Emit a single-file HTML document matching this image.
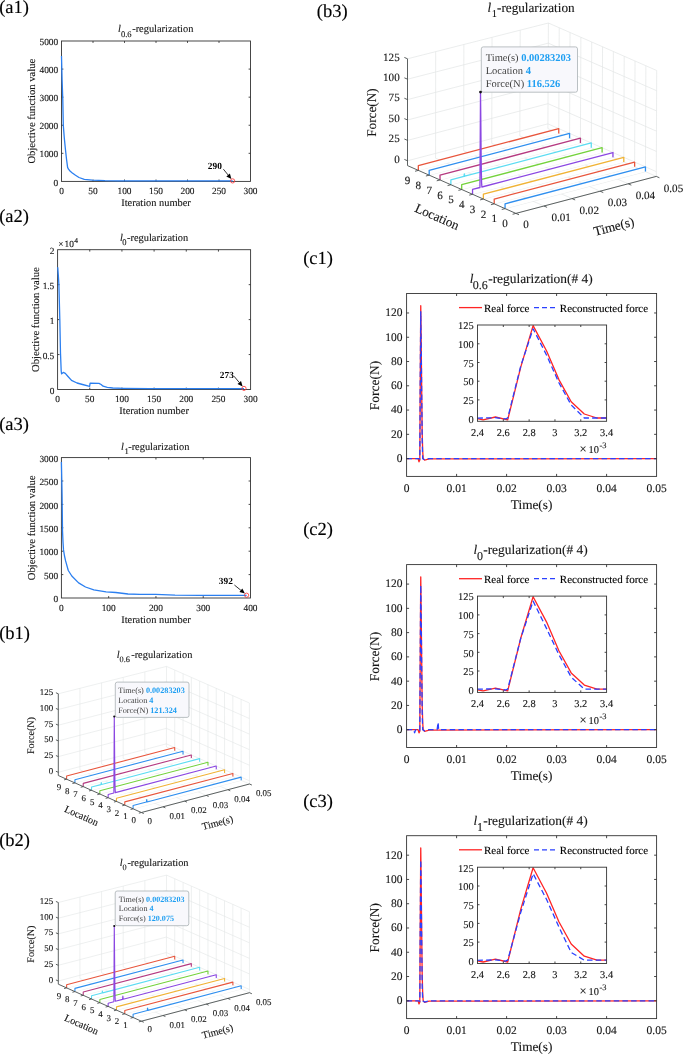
<!DOCTYPE html>
<html><head><meta charset="utf-8"><style>
html,body{margin:0;padding:0;background:#fff;}
body{width:685px;height:1054px;overflow:hidden;}
svg{display:block;will-change:transform;}
text{text-rendering:geometricPrecision;}
</style></head><body>
<svg width="685" height="1054" viewBox="0 0 685 1054" font-family="Liberation Serif, serif" fill="#161616">
<rect x="0" y="0" width="685" height="1054" fill="#fff"/>
<text x="-0.80" y="12.60" font-size="18.5" fill="#000" stroke="#000" stroke-width="0.12">(a1)</text>
<text x="-0.80" y="221.60" font-size="18.5" fill="#000" stroke="#000" stroke-width="0.12">(a2)</text>
<text x="-0.80" y="430.00" font-size="18.5" fill="#000" stroke="#000" stroke-width="0.12">(a3)</text>
<text x="-0.80" y="639.00" font-size="18.5" fill="#000" stroke="#000" stroke-width="0.12">(b1)</text>
<text x="-0.80" y="846.00" font-size="18.5" fill="#000" stroke="#000" stroke-width="0.12">(b2)</text>
<text x="316.80" y="17.00" font-size="18.5" fill="#000" stroke="#000" stroke-width="0.12">(b3)</text>
<text x="303.20" y="264.40" font-size="18.5" fill="#000" stroke="#000" stroke-width="0.12">(c1)</text>
<text x="303.20" y="535.20" font-size="18.5" fill="#000" stroke="#000" stroke-width="0.12">(c2)</text>
<text x="303.20" y="806.60" font-size="18.5" fill="#000" stroke="#000" stroke-width="0.12">(c3)</text>
<rect x="61.50" y="41.00" width="189.00" height="140.40" fill="none" stroke="#333333" stroke-width="0.9" rx="0"/>
<text x="61.50" y="194.10" font-size="9.33" text-anchor="middle" stroke="#161616" stroke-width="0.12">0</text>
<line x1="93.00" y1="181.40" x2="93.00" y2="179.50" stroke="#333333" stroke-width="0.9"/>
<line x1="93.00" y1="41.00" x2="93.00" y2="42.90" stroke="#333333" stroke-width="0.9"/>
<text x="93.00" y="194.10" font-size="9.33" text-anchor="middle" stroke="#161616" stroke-width="0.12">50</text>
<line x1="124.50" y1="181.40" x2="124.50" y2="179.50" stroke="#333333" stroke-width="0.9"/>
<line x1="124.50" y1="41.00" x2="124.50" y2="42.90" stroke="#333333" stroke-width="0.9"/>
<text x="124.50" y="194.10" font-size="9.33" text-anchor="middle" stroke="#161616" stroke-width="0.12">100</text>
<line x1="156.00" y1="181.40" x2="156.00" y2="179.50" stroke="#333333" stroke-width="0.9"/>
<line x1="156.00" y1="41.00" x2="156.00" y2="42.90" stroke="#333333" stroke-width="0.9"/>
<text x="156.00" y="194.10" font-size="9.33" text-anchor="middle" stroke="#161616" stroke-width="0.12">150</text>
<line x1="187.50" y1="181.40" x2="187.50" y2="179.50" stroke="#333333" stroke-width="0.9"/>
<line x1="187.50" y1="41.00" x2="187.50" y2="42.90" stroke="#333333" stroke-width="0.9"/>
<text x="187.50" y="194.10" font-size="9.33" text-anchor="middle" stroke="#161616" stroke-width="0.12">200</text>
<line x1="219.00" y1="181.40" x2="219.00" y2="179.50" stroke="#333333" stroke-width="0.9"/>
<line x1="219.00" y1="41.00" x2="219.00" y2="42.90" stroke="#333333" stroke-width="0.9"/>
<text x="219.00" y="194.10" font-size="9.33" text-anchor="middle" stroke="#161616" stroke-width="0.12">250</text>
<text x="250.50" y="194.10" font-size="9.33" text-anchor="middle" stroke="#161616" stroke-width="0.12">300</text>
<text x="58.20" y="185.50" font-size="9.33" text-anchor="end" stroke="#161616" stroke-width="0.12">0</text>
<line x1="61.50" y1="153.32" x2="63.40" y2="153.32" stroke="#333333" stroke-width="0.9"/>
<line x1="250.50" y1="153.32" x2="248.60" y2="153.32" stroke="#333333" stroke-width="0.9"/>
<text x="58.20" y="157.42" font-size="9.33" text-anchor="end" stroke="#161616" stroke-width="0.12">1000</text>
<line x1="61.50" y1="125.24" x2="63.40" y2="125.24" stroke="#333333" stroke-width="0.9"/>
<line x1="250.50" y1="125.24" x2="248.60" y2="125.24" stroke="#333333" stroke-width="0.9"/>
<text x="58.20" y="129.34" font-size="9.33" text-anchor="end" stroke="#161616" stroke-width="0.12">2000</text>
<line x1="61.50" y1="97.16" x2="63.40" y2="97.16" stroke="#333333" stroke-width="0.9"/>
<line x1="250.50" y1="97.16" x2="248.60" y2="97.16" stroke="#333333" stroke-width="0.9"/>
<text x="58.20" y="101.26" font-size="9.33" text-anchor="end" stroke="#161616" stroke-width="0.12">3000</text>
<line x1="61.50" y1="69.08" x2="63.40" y2="69.08" stroke="#333333" stroke-width="0.9"/>
<line x1="250.50" y1="69.08" x2="248.60" y2="69.08" stroke="#333333" stroke-width="0.9"/>
<text x="58.20" y="73.18" font-size="9.33" text-anchor="end" stroke="#161616" stroke-width="0.12">4000</text>
<text x="58.20" y="45.10" font-size="9.33" text-anchor="end" stroke="#161616" stroke-width="0.12">5000</text>
<text x="156.00" y="206.30" font-size="10.4" text-anchor="middle" stroke="#161616" stroke-width="0.12">Iteration number</text>
<text x="35.00" y="111.20" font-size="10.6" text-anchor="middle" transform="rotate(-90.00 35.00 111.20)" stroke="#161616" stroke-width="0.12">Objective function value</text>
<polyline points="61.50,55.90 62.10,80.00 62.80,100.00 63.30,125.40 64.30,138.00 65.40,149.00 66.50,159.00 67.60,167.40 68.50,169.20 70.00,171.00 72.00,172.70 75.50,175.30 79.00,177.50 84.30,179.30 92.20,180.10 105.00,180.60 118.00,180.80 150.00,180.90 232.60,180.90" fill="none" stroke="#2b7ff0" stroke-width="1.3" stroke-linejoin="round"/>
<text x="118.00" y="32.20" font-size="10.4" font-style="italic" stroke="#161616" stroke-width="0.12">l</text>
<text x="120.90" y="36.80" font-size="8.5" stroke="#161616" stroke-width="0.12">0.6</text>
<text x="132.20" y="32.20" font-size="10.4" stroke="#161616" stroke-width="0.12">-regularization</text>
<text x="207.80" y="168.80" font-size="9.33" fill="#000" font-weight="bold">290</text>
<line x1="223.40" y1="169.20" x2="228.11" y2="174.97" stroke="#000" stroke-width="0.8"/>
<polygon points="231.40,179.00 226.33,176.43 229.89,173.52" fill="#000"/>
<circle cx="232.60" cy="180.90" r="2.1" fill="none" stroke="#ff3030" stroke-width="0.8"/>
<rect x="57.60" y="249.70" width="193.00" height="139.80" fill="none" stroke="#333333" stroke-width="0.9" rx="0"/>
<text x="57.60" y="402.20" font-size="9.33" text-anchor="middle" stroke="#161616" stroke-width="0.12">0</text>
<line x1="89.77" y1="389.50" x2="89.77" y2="387.60" stroke="#333333" stroke-width="0.9"/>
<line x1="89.77" y1="249.70" x2="89.77" y2="251.60" stroke="#333333" stroke-width="0.9"/>
<text x="89.77" y="402.20" font-size="9.33" text-anchor="middle" stroke="#161616" stroke-width="0.12">50</text>
<line x1="121.93" y1="389.50" x2="121.93" y2="387.60" stroke="#333333" stroke-width="0.9"/>
<line x1="121.93" y1="249.70" x2="121.93" y2="251.60" stroke="#333333" stroke-width="0.9"/>
<text x="121.93" y="402.20" font-size="9.33" text-anchor="middle" stroke="#161616" stroke-width="0.12">100</text>
<line x1="154.10" y1="389.50" x2="154.10" y2="387.60" stroke="#333333" stroke-width="0.9"/>
<line x1="154.10" y1="249.70" x2="154.10" y2="251.60" stroke="#333333" stroke-width="0.9"/>
<text x="154.10" y="402.20" font-size="9.33" text-anchor="middle" stroke="#161616" stroke-width="0.12">150</text>
<line x1="186.27" y1="389.50" x2="186.27" y2="387.60" stroke="#333333" stroke-width="0.9"/>
<line x1="186.27" y1="249.70" x2="186.27" y2="251.60" stroke="#333333" stroke-width="0.9"/>
<text x="186.27" y="402.20" font-size="9.33" text-anchor="middle" stroke="#161616" stroke-width="0.12">200</text>
<line x1="218.43" y1="389.50" x2="218.43" y2="387.60" stroke="#333333" stroke-width="0.9"/>
<line x1="218.43" y1="249.70" x2="218.43" y2="251.60" stroke="#333333" stroke-width="0.9"/>
<text x="218.43" y="402.20" font-size="9.33" text-anchor="middle" stroke="#161616" stroke-width="0.12">250</text>
<text x="250.60" y="402.20" font-size="9.33" text-anchor="middle" stroke="#161616" stroke-width="0.12">300</text>
<text x="54.30" y="393.60" font-size="9.33" text-anchor="end" stroke="#161616" stroke-width="0.12">0</text>
<line x1="57.60" y1="354.55" x2="59.50" y2="354.55" stroke="#333333" stroke-width="0.9"/>
<line x1="250.60" y1="354.55" x2="248.70" y2="354.55" stroke="#333333" stroke-width="0.9"/>
<text x="54.30" y="358.65" font-size="9.33" text-anchor="end" stroke="#161616" stroke-width="0.12">0.5</text>
<line x1="57.60" y1="319.60" x2="59.50" y2="319.60" stroke="#333333" stroke-width="0.9"/>
<line x1="250.60" y1="319.60" x2="248.70" y2="319.60" stroke="#333333" stroke-width="0.9"/>
<text x="54.30" y="323.70" font-size="9.33" text-anchor="end" stroke="#161616" stroke-width="0.12">1</text>
<line x1="57.60" y1="284.65" x2="59.50" y2="284.65" stroke="#333333" stroke-width="0.9"/>
<line x1="250.60" y1="284.65" x2="248.70" y2="284.65" stroke="#333333" stroke-width="0.9"/>
<text x="54.30" y="288.75" font-size="9.33" text-anchor="end" stroke="#161616" stroke-width="0.12">1.5</text>
<text x="54.30" y="253.80" font-size="9.33" text-anchor="end" stroke="#161616" stroke-width="0.12">2</text>
<text x="154.10" y="414.40" font-size="10.4" text-anchor="middle" stroke="#161616" stroke-width="0.12">Iteration number</text>
<text x="39.20" y="319.60" font-size="10.6" text-anchor="middle" transform="rotate(-90.00 39.20 319.60)" stroke="#161616" stroke-width="0.12">Objective function value</text>
<polyline points="57.70,267.20 58.30,275.00 58.90,284.40 59.80,318.80 60.50,353.20 61.20,371.00 61.60,373.80 63.30,372.40 65.30,373.40 68.00,376.50 71.50,380.40 77.00,383.00 82.50,384.50 88.70,386.20 89.60,386.40 90.10,383.10 99.00,383.40 101.10,384.50 103.10,386.20 107.30,387.30 112.80,388.00 123.80,388.30 150.00,388.60 244.00,388.70" fill="none" stroke="#2b7ff0" stroke-width="1.3" stroke-linejoin="round"/>
<text x="58.20" y="247.30" font-size="9.33" stroke="#161616" stroke-width="0.12">×</text>
<text x="64.60" y="247.30" font-size="9.33" stroke="#161616" stroke-width="0.12">10</text>
<text x="74.20" y="242.80" font-size="7.6" stroke="#161616" stroke-width="0.12">4</text>
<text x="120.00" y="240.80" font-size="10.4" font-style="italic" stroke="#161616" stroke-width="0.12">l</text>
<text x="122.30" y="245.40" font-size="8.5" stroke="#161616" stroke-width="0.12">0</text>
<text x="127.00" y="240.80" font-size="10.4" stroke="#161616" stroke-width="0.12">-regularization</text>
<text x="219.80" y="377.60" font-size="9.33" fill="#000" font-weight="bold">273</text>
<line x1="234.00" y1="376.20" x2="239.27" y2="382.51" stroke="#000" stroke-width="0.8"/>
<polygon points="242.60,386.50 237.50,383.98 241.03,381.03" fill="#000"/>
<circle cx="244.00" cy="388.40" r="2.1" fill="none" stroke="#ff3030" stroke-width="0.8"/>
<rect x="61.40" y="457.60" width="189.10" height="140.40" fill="none" stroke="#333333" stroke-width="0.9" rx="0"/>
<text x="61.40" y="610.70" font-size="9.33" text-anchor="middle" stroke="#161616" stroke-width="0.12">0</text>
<line x1="108.67" y1="598.00" x2="108.67" y2="596.10" stroke="#333333" stroke-width="0.9"/>
<line x1="108.67" y1="457.60" x2="108.67" y2="459.50" stroke="#333333" stroke-width="0.9"/>
<text x="108.67" y="610.70" font-size="9.33" text-anchor="middle" stroke="#161616" stroke-width="0.12">100</text>
<line x1="155.95" y1="598.00" x2="155.95" y2="596.10" stroke="#333333" stroke-width="0.9"/>
<line x1="155.95" y1="457.60" x2="155.95" y2="459.50" stroke="#333333" stroke-width="0.9"/>
<text x="155.95" y="610.70" font-size="9.33" text-anchor="middle" stroke="#161616" stroke-width="0.12">200</text>
<line x1="203.22" y1="598.00" x2="203.22" y2="596.10" stroke="#333333" stroke-width="0.9"/>
<line x1="203.22" y1="457.60" x2="203.22" y2="459.50" stroke="#333333" stroke-width="0.9"/>
<text x="203.22" y="610.70" font-size="9.33" text-anchor="middle" stroke="#161616" stroke-width="0.12">300</text>
<text x="250.50" y="610.70" font-size="9.33" text-anchor="middle" stroke="#161616" stroke-width="0.12">400</text>
<text x="58.10" y="602.10" font-size="9.33" text-anchor="end" stroke="#161616" stroke-width="0.12">0</text>
<line x1="61.40" y1="574.60" x2="63.30" y2="574.60" stroke="#333333" stroke-width="0.9"/>
<line x1="250.50" y1="574.60" x2="248.60" y2="574.60" stroke="#333333" stroke-width="0.9"/>
<text x="58.10" y="578.70" font-size="9.33" text-anchor="end" stroke="#161616" stroke-width="0.12">500</text>
<line x1="61.40" y1="551.20" x2="63.30" y2="551.20" stroke="#333333" stroke-width="0.9"/>
<line x1="250.50" y1="551.20" x2="248.60" y2="551.20" stroke="#333333" stroke-width="0.9"/>
<text x="58.10" y="555.30" font-size="9.33" text-anchor="end" stroke="#161616" stroke-width="0.12">1000</text>
<line x1="61.40" y1="527.80" x2="63.30" y2="527.80" stroke="#333333" stroke-width="0.9"/>
<line x1="250.50" y1="527.80" x2="248.60" y2="527.80" stroke="#333333" stroke-width="0.9"/>
<text x="58.10" y="531.90" font-size="9.33" text-anchor="end" stroke="#161616" stroke-width="0.12">1500</text>
<line x1="61.40" y1="504.40" x2="63.30" y2="504.40" stroke="#333333" stroke-width="0.9"/>
<line x1="250.50" y1="504.40" x2="248.60" y2="504.40" stroke="#333333" stroke-width="0.9"/>
<text x="58.10" y="508.50" font-size="9.33" text-anchor="end" stroke="#161616" stroke-width="0.12">2000</text>
<line x1="61.40" y1="481.00" x2="63.30" y2="481.00" stroke="#333333" stroke-width="0.9"/>
<line x1="250.50" y1="481.00" x2="248.60" y2="481.00" stroke="#333333" stroke-width="0.9"/>
<text x="58.10" y="485.10" font-size="9.33" text-anchor="end" stroke="#161616" stroke-width="0.12">2500</text>
<text x="58.10" y="461.70" font-size="9.33" text-anchor="end" stroke="#161616" stroke-width="0.12">3000</text>
<text x="155.95" y="622.90" font-size="10.4" text-anchor="middle" stroke="#161616" stroke-width="0.12">Iteration number</text>
<text x="35.00" y="527.80" font-size="10.6" text-anchor="middle" transform="rotate(-90.00 35.00 527.80)" stroke="#161616" stroke-width="0.12">Objective function value</text>
<polyline points="61.40,461.90 61.80,480.00 62.10,496.30 62.50,530.60 63.00,542.00 63.50,549.90 64.50,556.00 65.60,560.90 68.30,570.50 71.80,576.00 78.60,582.90 85.50,587.00 93.80,589.80 106.10,591.80 115.80,592.50 128.00,594.00 140.00,594.40 155.60,594.30 175.00,595.20 200.00,595.40 246.60,595.40" fill="none" stroke="#2b7ff0" stroke-width="1.3" stroke-linejoin="round"/>
<text x="121.00" y="449.70" font-size="10.4" font-style="italic" stroke="#161616" stroke-width="0.12">l</text>
<text x="124.60" y="454.30" font-size="8.5" stroke="#161616" stroke-width="0.12">1</text>
<text x="128.20" y="449.70" font-size="10.4" stroke="#161616" stroke-width="0.12">-regularization</text>
<text x="218.80" y="583.70" font-size="9.33" fill="#000" font-weight="bold">392</text>
<line x1="234.40" y1="585.00" x2="240.88" y2="590.31" stroke="#000" stroke-width="0.8"/>
<polygon points="244.90,593.60 239.42,592.08 242.33,588.53" fill="#000"/>
<circle cx="246.60" cy="595.20" r="2.1" fill="none" stroke="#ff3030" stroke-width="0.8"/>
<line x1="58.30" y1="772.30" x2="166.40" y2="743.84" stroke="#e2e5e5" stroke-width="0.6"/>
<line x1="58.30" y1="756.60" x2="166.42" y2="728.35" stroke="#e2e5e5" stroke-width="0.6"/>
<line x1="58.30" y1="740.90" x2="166.44" y2="712.86" stroke="#e2e5e5" stroke-width="0.6"/>
<line x1="58.30" y1="725.20" x2="166.46" y2="697.38" stroke="#e2e5e5" stroke-width="0.6"/>
<line x1="58.30" y1="709.50" x2="166.48" y2="681.89" stroke="#e2e5e5" stroke-width="0.6"/>
<line x1="58.30" y1="693.80" x2="166.50" y2="666.40" stroke="#e2e5e5" stroke-width="0.6"/>
<line x1="79.92" y1="769.80" x2="79.94" y2="688.32" stroke="#e2e5e5" stroke-width="0.6"/>
<line x1="101.54" y1="764.10" x2="101.58" y2="682.84" stroke="#e2e5e5" stroke-width="0.6"/>
<line x1="123.16" y1="758.40" x2="123.22" y2="677.36" stroke="#e2e5e5" stroke-width="0.6"/>
<line x1="144.78" y1="752.70" x2="144.86" y2="671.88" stroke="#e2e5e5" stroke-width="0.6"/>
<line x1="166.40" y1="747.00" x2="166.50" y2="666.40" stroke="#e2e5e5" stroke-width="0.6"/>
<line x1="249.50" y1="780.82" x2="166.40" y2="743.84" stroke="#e2e5e5" stroke-width="0.6"/>
<line x1="249.48" y1="765.26" x2="166.42" y2="728.35" stroke="#e2e5e5" stroke-width="0.6"/>
<line x1="249.46" y1="749.69" x2="166.44" y2="712.86" stroke="#e2e5e5" stroke-width="0.6"/>
<line x1="249.44" y1="734.13" x2="166.46" y2="697.38" stroke="#e2e5e5" stroke-width="0.6"/>
<line x1="249.42" y1="718.56" x2="166.48" y2="681.89" stroke="#e2e5e5" stroke-width="0.6"/>
<line x1="249.40" y1="703.00" x2="166.50" y2="666.40" stroke="#e2e5e5" stroke-width="0.6"/>
<line x1="249.50" y1="784.00" x2="249.40" y2="703.00" stroke="#e2e5e5" stroke-width="0.6"/>
<line x1="241.19" y1="780.30" x2="241.11" y2="699.34" stroke="#e2e5e5" stroke-width="0.6"/>
<line x1="232.88" y1="776.60" x2="232.82" y2="695.68" stroke="#e2e5e5" stroke-width="0.6"/>
<line x1="224.57" y1="772.90" x2="224.53" y2="692.02" stroke="#e2e5e5" stroke-width="0.6"/>
<line x1="216.26" y1="769.20" x2="216.24" y2="688.36" stroke="#e2e5e5" stroke-width="0.6"/>
<line x1="207.95" y1="765.50" x2="207.95" y2="684.70" stroke="#e2e5e5" stroke-width="0.6"/>
<line x1="199.64" y1="761.80" x2="199.66" y2="681.04" stroke="#e2e5e5" stroke-width="0.6"/>
<line x1="191.33" y1="758.10" x2="191.37" y2="677.38" stroke="#e2e5e5" stroke-width="0.6"/>
<line x1="183.02" y1="754.40" x2="183.08" y2="673.72" stroke="#e2e5e5" stroke-width="0.6"/>
<line x1="174.71" y1="750.70" x2="174.79" y2="670.06" stroke="#e2e5e5" stroke-width="0.6"/>
<line x1="141.40" y1="812.50" x2="249.50" y2="784.00" stroke="#e2e5e5" stroke-width="0.6"/>
<line x1="133.09" y1="808.80" x2="241.19" y2="780.30" stroke="#e2e5e5" stroke-width="0.6"/>
<line x1="124.78" y1="805.10" x2="232.88" y2="776.60" stroke="#e2e5e5" stroke-width="0.6"/>
<line x1="116.47" y1="801.40" x2="224.57" y2="772.90" stroke="#e2e5e5" stroke-width="0.6"/>
<line x1="108.16" y1="797.70" x2="216.26" y2="769.20" stroke="#e2e5e5" stroke-width="0.6"/>
<line x1="99.85" y1="794.00" x2="207.95" y2="765.50" stroke="#e2e5e5" stroke-width="0.6"/>
<line x1="91.54" y1="790.30" x2="199.64" y2="761.80" stroke="#e2e5e5" stroke-width="0.6"/>
<line x1="83.23" y1="786.60" x2="191.33" y2="758.10" stroke="#e2e5e5" stroke-width="0.6"/>
<line x1="74.92" y1="782.90" x2="183.02" y2="754.40" stroke="#e2e5e5" stroke-width="0.6"/>
<line x1="66.61" y1="779.20" x2="174.71" y2="750.70" stroke="#e2e5e5" stroke-width="0.6"/>
<line x1="163.02" y1="806.80" x2="79.92" y2="769.80" stroke="#e2e5e5" stroke-width="0.6"/>
<line x1="184.64" y1="801.10" x2="101.54" y2="764.10" stroke="#e2e5e5" stroke-width="0.6"/>
<line x1="206.26" y1="795.40" x2="123.16" y2="758.40" stroke="#e2e5e5" stroke-width="0.6"/>
<line x1="227.88" y1="789.70" x2="144.78" y2="752.70" stroke="#e2e5e5" stroke-width="0.6"/>
<line x1="249.50" y1="784.00" x2="166.40" y2="747.00" stroke="#e2e5e5" stroke-width="0.6"/>
<polygon points="66.61,779.20 66.61,776.00 174.71,747.54 174.71,750.70" fill="#fff" stroke="none"/>
<polyline points="66.61,779.20 66.61,776.00 174.71,747.54 174.71,750.70" fill="none" stroke="#e8553c" stroke-width="1.1" stroke-linejoin="round"/>
<polygon points="74.92,782.90 74.92,779.69 183.02,751.24 183.02,754.40" fill="#fff" stroke="none"/>
<polyline points="74.92,782.90 74.92,779.69 183.02,751.24 183.02,754.40" fill="none" stroke="#2f8fef" stroke-width="1.1" stroke-linejoin="round"/>
<polygon points="83.23,786.60 83.23,783.39 191.33,754.94 191.33,758.10" fill="#fff" stroke="none"/>
<polyline points="83.23,786.60 83.23,783.39 191.33,754.94 191.33,758.10" fill="none" stroke="#b53a80" stroke-width="1.1" stroke-linejoin="round"/>
<polygon points="91.54,790.30 91.54,787.09 100.94,784.62 101.27,782.64 101.59,784.44 199.64,758.63 199.64,761.80" fill="#fff" stroke="none"/>
<polyline points="91.54,790.30 91.54,787.09 100.94,784.62 101.27,782.64 101.59,784.44 199.64,758.63 199.64,761.80" fill="none" stroke="#5cdcf2" stroke-width="1.1" stroke-linejoin="round"/>
<polygon points="99.85,794.00 99.85,790.79 207.95,762.33 207.95,765.50" fill="#fff" stroke="none"/>
<polyline points="99.85,794.00 99.85,790.79 207.95,762.33 207.95,765.50" fill="none" stroke="#74d23c" stroke-width="1.1" stroke-linejoin="round"/>
<polygon points="108.16,797.70 108.16,794.49 113.87,792.99 114.07,754.75 114.28,716.52 114.49,737.08 114.71,762.22 114.91,779.73 115.12,788.84 115.34,792.60 216.26,766.03 216.26,769.20" fill="#fff" stroke="none"/>
<polyline points="108.16,797.70 108.16,794.49 113.87,792.99 114.07,754.75 114.28,716.52 114.49,737.08 114.71,762.22 114.91,779.73 115.12,788.84 115.34,792.60 216.26,766.03 216.26,769.20" fill="none" stroke="#8b47e2" stroke-width="1.1" stroke-linejoin="round"/>
<polygon points="116.47,801.40 116.47,798.19 224.57,769.73 224.57,772.90" fill="#fff" stroke="none"/>
<polyline points="116.47,801.40 116.47,798.19 224.57,769.73 224.57,772.90" fill="none" stroke="#f0b335" stroke-width="1.1" stroke-linejoin="round"/>
<polygon points="124.78,805.10 124.78,801.88 232.88,773.43 232.88,776.60" fill="#fff" stroke="none"/>
<polyline points="124.78,805.10 124.78,801.88 232.88,773.43 232.88,776.60" fill="none" stroke="#e8553c" stroke-width="1.1" stroke-linejoin="round"/>
<polygon points="133.09,808.80 133.09,805.58 146.39,802.08 146.71,799.48 147.03,801.91 241.19,777.13 241.19,780.30" fill="#fff" stroke="none"/>
<polyline points="133.09,808.80 133.09,805.58 146.39,802.08 146.71,799.48 147.03,801.91 241.19,777.13 241.19,780.30" fill="none" stroke="#2f8fef" stroke-width="1.1" stroke-linejoin="round"/>
<line x1="58.30" y1="775.50" x2="58.30" y2="693.80" stroke="#4b5050" stroke-width="0.9"/>
<line x1="58.30" y1="775.50" x2="141.40" y2="812.50" stroke="#4b5050" stroke-width="0.9"/>
<line x1="141.40" y1="812.50" x2="249.50" y2="784.00" stroke="#4b5050" stroke-width="0.9"/>
<line x1="58.30" y1="772.30" x2="55.92" y2="771.24" stroke="#4b5050" stroke-width="0.9"/>
<text x="53.10" y="773.83" font-size="8.9" text-anchor="end" stroke="#161616" stroke-width="0.12">0</text>
<line x1="58.30" y1="756.60" x2="55.92" y2="755.54" stroke="#4b5050" stroke-width="0.9"/>
<text x="53.10" y="758.13" font-size="8.9" text-anchor="end" stroke="#161616" stroke-width="0.12">25</text>
<line x1="58.30" y1="740.90" x2="55.92" y2="739.84" stroke="#4b5050" stroke-width="0.9"/>
<text x="53.10" y="742.44" font-size="8.9" text-anchor="end" stroke="#161616" stroke-width="0.12">50</text>
<line x1="58.30" y1="725.20" x2="55.92" y2="724.14" stroke="#4b5050" stroke-width="0.9"/>
<text x="53.10" y="726.74" font-size="8.9" text-anchor="end" stroke="#161616" stroke-width="0.12">75</text>
<line x1="58.30" y1="709.50" x2="55.92" y2="708.44" stroke="#4b5050" stroke-width="0.9"/>
<text x="53.10" y="711.04" font-size="8.9" text-anchor="end" stroke="#161616" stroke-width="0.12">100</text>
<line x1="58.30" y1="693.80" x2="55.92" y2="692.74" stroke="#4b5050" stroke-width="0.9"/>
<text x="53.10" y="695.34" font-size="8.9" text-anchor="end" stroke="#161616" stroke-width="0.12">125</text>
<line x1="141.40" y1="812.50" x2="138.89" y2="813.16" stroke="#4b5050" stroke-width="0.9"/>
<text x="133.70" y="823.14" font-size="8.9" text-anchor="middle" stroke="#161616" stroke-width="0.12">0</text>
<line x1="133.09" y1="808.80" x2="130.58" y2="809.46" stroke="#4b5050" stroke-width="0.9"/>
<text x="125.39" y="819.44" font-size="8.9" text-anchor="middle" stroke="#161616" stroke-width="0.12">1</text>
<line x1="124.78" y1="805.10" x2="122.27" y2="805.76" stroke="#4b5050" stroke-width="0.9"/>
<text x="117.08" y="815.74" font-size="8.9" text-anchor="middle" stroke="#161616" stroke-width="0.12">2</text>
<line x1="116.47" y1="801.40" x2="113.96" y2="802.06" stroke="#4b5050" stroke-width="0.9"/>
<text x="108.77" y="812.04" font-size="8.9" text-anchor="middle" stroke="#161616" stroke-width="0.12">3</text>
<line x1="108.16" y1="797.70" x2="105.65" y2="798.36" stroke="#4b5050" stroke-width="0.9"/>
<text x="100.46" y="808.34" font-size="8.9" text-anchor="middle" stroke="#161616" stroke-width="0.12">4</text>
<line x1="99.85" y1="794.00" x2="97.34" y2="794.66" stroke="#4b5050" stroke-width="0.9"/>
<text x="92.15" y="804.64" font-size="8.9" text-anchor="middle" stroke="#161616" stroke-width="0.12">5</text>
<line x1="91.54" y1="790.30" x2="89.03" y2="790.96" stroke="#4b5050" stroke-width="0.9"/>
<text x="83.84" y="800.94" font-size="8.9" text-anchor="middle" stroke="#161616" stroke-width="0.12">6</text>
<line x1="83.23" y1="786.60" x2="80.72" y2="787.26" stroke="#4b5050" stroke-width="0.9"/>
<text x="75.53" y="797.24" font-size="8.9" text-anchor="middle" stroke="#161616" stroke-width="0.12">7</text>
<line x1="74.92" y1="782.90" x2="72.41" y2="783.56" stroke="#4b5050" stroke-width="0.9"/>
<text x="67.22" y="793.54" font-size="8.9" text-anchor="middle" stroke="#161616" stroke-width="0.12">8</text>
<line x1="66.61" y1="779.20" x2="64.10" y2="779.86" stroke="#4b5050" stroke-width="0.9"/>
<text x="58.91" y="789.84" font-size="8.9" text-anchor="middle" stroke="#161616" stroke-width="0.12">9</text>
<line x1="141.40" y1="812.50" x2="143.78" y2="813.56" stroke="#4b5050" stroke-width="0.9"/>
<text x="149.70" y="823.74" font-size="8.9" text-anchor="middle" stroke="#161616" stroke-width="0.12">0</text>
<line x1="163.02" y1="806.80" x2="165.40" y2="807.86" stroke="#4b5050" stroke-width="0.9"/>
<text x="177.22" y="819.14" font-size="8.9" text-anchor="middle" stroke="#161616" stroke-width="0.12">0.01</text>
<line x1="184.64" y1="801.10" x2="187.02" y2="802.16" stroke="#4b5050" stroke-width="0.9"/>
<text x="198.84" y="813.44" font-size="8.9" text-anchor="middle" stroke="#161616" stroke-width="0.12">0.02</text>
<line x1="206.26" y1="795.40" x2="208.64" y2="796.46" stroke="#4b5050" stroke-width="0.9"/>
<text x="220.46" y="807.74" font-size="8.9" text-anchor="middle" stroke="#161616" stroke-width="0.12">0.03</text>
<line x1="227.88" y1="789.70" x2="230.26" y2="790.76" stroke="#4b5050" stroke-width="0.9"/>
<text x="242.08" y="802.04" font-size="8.9" text-anchor="middle" stroke="#161616" stroke-width="0.12">0.04</text>
<line x1="249.50" y1="784.00" x2="251.88" y2="785.06" stroke="#4b5050" stroke-width="0.9"/>
<text x="263.70" y="796.34" font-size="8.9" text-anchor="middle" stroke="#161616" stroke-width="0.12">0.05</text>
<text x="34.20" y="735.50" font-size="10.1" text-anchor="middle" transform="rotate(-90.00 34.20 735.50)" stroke="#161616" stroke-width="0.12">Force(N)</text>
<text x="80.17" y="818.77" font-size="10.1" text-anchor="middle" transform="rotate(24.00 80.17 818.77)" stroke="#161616" stroke-width="0.12">Location</text>
<text x="218.37" y="825.93" font-size="10.1" text-anchor="middle" transform="rotate(-14.77 218.37 825.93)" stroke="#161616" stroke-width="0.12">Time(s)</text>
<text x="116.80" y="658.00" font-size="10.4" font-style="italic" stroke="#161616" stroke-width="0.12">l</text>
<text x="119.60" y="662.40" font-size="8.3" stroke="#161616" stroke-width="0.12">0.6</text>
<text x="131.20" y="658.00" font-size="10.4" stroke="#161616" stroke-width="0.12">-regularization</text>
<rect x="115.30" y="682.10" width="73.70" height="35.30" fill="#f8f8fc" stroke="#a9b1b4" stroke-width="0.8" rx="2"/>
<text x="118.20" y="693.00" font-size="8.2" fill="#404040" xml:space="preserve">Time(s) <tspan fill="#1f9ff2" font-weight="bold">0.00283203</tspan></text>
<text x="118.20" y="702.75" font-size="8.2" fill="#404040" xml:space="preserve">Location <tspan fill="#1f9ff2" font-weight="bold">4</tspan></text>
<text x="118.20" y="712.50" font-size="8.2" fill="#404040" xml:space="preserve">Force(N) <tspan fill="#1f9ff2" font-weight="bold">121.324</tspan></text>
<circle cx="114.28" cy="716.52" r="1.1" fill="#111"/>
<line x1="58.30" y1="981.00" x2="166.40" y2="952.54" stroke="#e2e5e5" stroke-width="0.6"/>
<line x1="58.30" y1="965.30" x2="166.42" y2="937.05" stroke="#e2e5e5" stroke-width="0.6"/>
<line x1="58.30" y1="949.60" x2="166.44" y2="921.56" stroke="#e2e5e5" stroke-width="0.6"/>
<line x1="58.30" y1="933.90" x2="166.46" y2="906.08" stroke="#e2e5e5" stroke-width="0.6"/>
<line x1="58.30" y1="918.20" x2="166.48" y2="890.59" stroke="#e2e5e5" stroke-width="0.6"/>
<line x1="58.30" y1="902.50" x2="166.50" y2="875.10" stroke="#e2e5e5" stroke-width="0.6"/>
<line x1="79.92" y1="978.50" x2="79.94" y2="897.02" stroke="#e2e5e5" stroke-width="0.6"/>
<line x1="101.54" y1="972.80" x2="101.58" y2="891.54" stroke="#e2e5e5" stroke-width="0.6"/>
<line x1="123.16" y1="967.10" x2="123.22" y2="886.06" stroke="#e2e5e5" stroke-width="0.6"/>
<line x1="144.78" y1="961.40" x2="144.86" y2="880.58" stroke="#e2e5e5" stroke-width="0.6"/>
<line x1="166.40" y1="955.70" x2="166.50" y2="875.10" stroke="#e2e5e5" stroke-width="0.6"/>
<line x1="249.50" y1="989.52" x2="166.40" y2="952.54" stroke="#e2e5e5" stroke-width="0.6"/>
<line x1="249.48" y1="973.96" x2="166.42" y2="937.05" stroke="#e2e5e5" stroke-width="0.6"/>
<line x1="249.46" y1="958.39" x2="166.44" y2="921.56" stroke="#e2e5e5" stroke-width="0.6"/>
<line x1="249.44" y1="942.83" x2="166.46" y2="906.08" stroke="#e2e5e5" stroke-width="0.6"/>
<line x1="249.42" y1="927.26" x2="166.48" y2="890.59" stroke="#e2e5e5" stroke-width="0.6"/>
<line x1="249.40" y1="911.70" x2="166.50" y2="875.10" stroke="#e2e5e5" stroke-width="0.6"/>
<line x1="249.50" y1="992.70" x2="249.40" y2="911.70" stroke="#e2e5e5" stroke-width="0.6"/>
<line x1="241.19" y1="989.00" x2="241.11" y2="908.04" stroke="#e2e5e5" stroke-width="0.6"/>
<line x1="232.88" y1="985.30" x2="232.82" y2="904.38" stroke="#e2e5e5" stroke-width="0.6"/>
<line x1="224.57" y1="981.60" x2="224.53" y2="900.72" stroke="#e2e5e5" stroke-width="0.6"/>
<line x1="216.26" y1="977.90" x2="216.24" y2="897.06" stroke="#e2e5e5" stroke-width="0.6"/>
<line x1="207.95" y1="974.20" x2="207.95" y2="893.40" stroke="#e2e5e5" stroke-width="0.6"/>
<line x1="199.64" y1="970.50" x2="199.66" y2="889.74" stroke="#e2e5e5" stroke-width="0.6"/>
<line x1="191.33" y1="966.80" x2="191.37" y2="886.08" stroke="#e2e5e5" stroke-width="0.6"/>
<line x1="183.02" y1="963.10" x2="183.08" y2="882.42" stroke="#e2e5e5" stroke-width="0.6"/>
<line x1="174.71" y1="959.40" x2="174.79" y2="878.76" stroke="#e2e5e5" stroke-width="0.6"/>
<line x1="141.40" y1="1021.20" x2="249.50" y2="992.70" stroke="#e2e5e5" stroke-width="0.6"/>
<line x1="133.09" y1="1017.50" x2="241.19" y2="989.00" stroke="#e2e5e5" stroke-width="0.6"/>
<line x1="124.78" y1="1013.80" x2="232.88" y2="985.30" stroke="#e2e5e5" stroke-width="0.6"/>
<line x1="116.47" y1="1010.10" x2="224.57" y2="981.60" stroke="#e2e5e5" stroke-width="0.6"/>
<line x1="108.16" y1="1006.40" x2="216.26" y2="977.90" stroke="#e2e5e5" stroke-width="0.6"/>
<line x1="99.85" y1="1002.70" x2="207.95" y2="974.20" stroke="#e2e5e5" stroke-width="0.6"/>
<line x1="91.54" y1="999.00" x2="199.64" y2="970.50" stroke="#e2e5e5" stroke-width="0.6"/>
<line x1="83.23" y1="995.30" x2="191.33" y2="966.80" stroke="#e2e5e5" stroke-width="0.6"/>
<line x1="74.92" y1="991.60" x2="183.02" y2="963.10" stroke="#e2e5e5" stroke-width="0.6"/>
<line x1="66.61" y1="987.90" x2="174.71" y2="959.40" stroke="#e2e5e5" stroke-width="0.6"/>
<line x1="163.02" y1="1015.50" x2="79.92" y2="978.50" stroke="#e2e5e5" stroke-width="0.6"/>
<line x1="184.64" y1="1009.80" x2="101.54" y2="972.80" stroke="#e2e5e5" stroke-width="0.6"/>
<line x1="206.26" y1="1004.10" x2="123.16" y2="967.10" stroke="#e2e5e5" stroke-width="0.6"/>
<line x1="227.88" y1="998.40" x2="144.78" y2="961.40" stroke="#e2e5e5" stroke-width="0.6"/>
<line x1="249.50" y1="992.70" x2="166.40" y2="955.70" stroke="#e2e5e5" stroke-width="0.6"/>
<polygon points="66.61,987.90 66.61,984.70 174.71,956.24 174.71,959.40" fill="#fff" stroke="none"/>
<polyline points="66.61,987.90 66.61,984.70 174.71,956.24 174.71,959.40" fill="none" stroke="#e8553c" stroke-width="1.1" stroke-linejoin="round"/>
<polygon points="74.92,991.60 74.92,988.39 183.02,959.94 183.02,963.10" fill="#fff" stroke="none"/>
<polyline points="74.92,991.60 74.92,988.39 183.02,959.94 183.02,963.10" fill="none" stroke="#2f8fef" stroke-width="1.1" stroke-linejoin="round"/>
<polygon points="83.23,995.30 83.23,992.09 191.33,963.64 191.33,966.80" fill="#fff" stroke="none"/>
<polyline points="83.23,995.30 83.23,992.09 191.33,963.64 191.33,966.80" fill="none" stroke="#b53a80" stroke-width="1.1" stroke-linejoin="round"/>
<polygon points="91.54,999.00 91.54,995.79 102.03,993.03 102.35,991.06 102.67,992.86 199.64,967.33 199.64,970.50" fill="#fff" stroke="none"/>
<polyline points="91.54,999.00 91.54,995.79 102.03,993.03 102.35,991.06 102.67,992.86 199.64,967.33 199.64,970.50" fill="none" stroke="#5cdcf2" stroke-width="1.1" stroke-linejoin="round"/>
<polygon points="99.85,1002.70 99.85,999.49 207.95,971.03 207.95,974.20" fill="#fff" stroke="none"/>
<polyline points="99.85,1002.70 99.85,999.49 207.95,971.03 207.95,974.20" fill="none" stroke="#74d23c" stroke-width="1.1" stroke-linejoin="round"/>
<polygon points="108.16,1006.40 108.16,1003.19 113.87,1001.69 114.07,963.85 114.28,926.01 114.49,946.36 114.71,971.24 114.91,988.57 115.12,997.58 115.34,1001.30 122.54,999.40 122.86,996.17 123.19,999.23 216.26,974.73 216.26,977.90" fill="#fff" stroke="none"/>
<polyline points="108.16,1006.40 108.16,1003.19 113.87,1001.69 114.07,963.85 114.28,926.01 114.49,946.36 114.71,971.24 114.91,988.57 115.12,997.58 115.34,1001.30 122.54,999.40 122.86,996.17 123.19,999.23 216.26,974.73 216.26,977.90" fill="none" stroke="#8b47e2" stroke-width="1.1" stroke-linejoin="round"/>
<polygon points="116.47,1010.10 116.47,1006.89 224.57,978.43 224.57,981.60" fill="#fff" stroke="none"/>
<polyline points="116.47,1010.10 116.47,1006.89 224.57,978.43 224.57,981.60" fill="none" stroke="#f0b335" stroke-width="1.1" stroke-linejoin="round"/>
<polygon points="124.78,1013.80 124.78,1010.58 232.88,982.13 232.88,985.30" fill="#fff" stroke="none"/>
<polyline points="124.78,1013.80 124.78,1010.58 232.88,982.13 232.88,985.30" fill="none" stroke="#e8553c" stroke-width="1.1" stroke-linejoin="round"/>
<polygon points="133.09,1017.50 133.09,1014.28 147.25,1010.56 147.57,1007.95 147.90,1010.38 241.19,985.83 241.19,989.00" fill="#fff" stroke="none"/>
<polyline points="133.09,1017.50 133.09,1014.28 147.25,1010.56 147.57,1007.95 147.90,1010.38 241.19,985.83 241.19,989.00" fill="none" stroke="#2f8fef" stroke-width="1.1" stroke-linejoin="round"/>
<line x1="58.30" y1="984.20" x2="58.30" y2="902.50" stroke="#4b5050" stroke-width="0.9"/>
<line x1="58.30" y1="984.20" x2="141.40" y2="1021.20" stroke="#4b5050" stroke-width="0.9"/>
<line x1="141.40" y1="1021.20" x2="249.50" y2="992.70" stroke="#4b5050" stroke-width="0.9"/>
<line x1="58.30" y1="981.00" x2="55.92" y2="979.94" stroke="#4b5050" stroke-width="0.9"/>
<text x="53.10" y="982.53" font-size="8.9" text-anchor="end" stroke="#161616" stroke-width="0.12">0</text>
<line x1="58.30" y1="965.30" x2="55.92" y2="964.24" stroke="#4b5050" stroke-width="0.9"/>
<text x="53.10" y="966.83" font-size="8.9" text-anchor="end" stroke="#161616" stroke-width="0.12">25</text>
<line x1="58.30" y1="949.60" x2="55.92" y2="948.54" stroke="#4b5050" stroke-width="0.9"/>
<text x="53.10" y="951.14" font-size="8.9" text-anchor="end" stroke="#161616" stroke-width="0.12">50</text>
<line x1="58.30" y1="933.90" x2="55.92" y2="932.84" stroke="#4b5050" stroke-width="0.9"/>
<text x="53.10" y="935.44" font-size="8.9" text-anchor="end" stroke="#161616" stroke-width="0.12">75</text>
<line x1="58.30" y1="918.20" x2="55.92" y2="917.14" stroke="#4b5050" stroke-width="0.9"/>
<text x="53.10" y="919.74" font-size="8.9" text-anchor="end" stroke="#161616" stroke-width="0.12">100</text>
<line x1="58.30" y1="902.50" x2="55.92" y2="901.44" stroke="#4b5050" stroke-width="0.9"/>
<text x="53.10" y="904.04" font-size="8.9" text-anchor="end" stroke="#161616" stroke-width="0.12">125</text>
<line x1="141.40" y1="1021.20" x2="138.89" y2="1021.86" stroke="#4b5050" stroke-width="0.9"/>
<line x1="133.09" y1="1017.50" x2="130.58" y2="1018.16" stroke="#4b5050" stroke-width="0.9"/>
<text x="125.39" y="1028.14" font-size="8.9" text-anchor="middle" stroke="#161616" stroke-width="0.12">1</text>
<line x1="124.78" y1="1013.80" x2="122.27" y2="1014.46" stroke="#4b5050" stroke-width="0.9"/>
<text x="117.08" y="1024.44" font-size="8.9" text-anchor="middle" stroke="#161616" stroke-width="0.12">2</text>
<line x1="116.47" y1="1010.10" x2="113.96" y2="1010.76" stroke="#4b5050" stroke-width="0.9"/>
<text x="108.77" y="1020.74" font-size="8.9" text-anchor="middle" stroke="#161616" stroke-width="0.12">3</text>
<line x1="108.16" y1="1006.40" x2="105.65" y2="1007.06" stroke="#4b5050" stroke-width="0.9"/>
<text x="100.46" y="1017.04" font-size="8.9" text-anchor="middle" stroke="#161616" stroke-width="0.12">4</text>
<line x1="99.85" y1="1002.70" x2="97.34" y2="1003.36" stroke="#4b5050" stroke-width="0.9"/>
<text x="92.15" y="1013.34" font-size="8.9" text-anchor="middle" stroke="#161616" stroke-width="0.12">5</text>
<line x1="91.54" y1="999.00" x2="89.03" y2="999.66" stroke="#4b5050" stroke-width="0.9"/>
<text x="83.84" y="1009.64" font-size="8.9" text-anchor="middle" stroke="#161616" stroke-width="0.12">6</text>
<line x1="83.23" y1="995.30" x2="80.72" y2="995.96" stroke="#4b5050" stroke-width="0.9"/>
<text x="75.53" y="1005.94" font-size="8.9" text-anchor="middle" stroke="#161616" stroke-width="0.12">7</text>
<line x1="74.92" y1="991.60" x2="72.41" y2="992.26" stroke="#4b5050" stroke-width="0.9"/>
<text x="67.22" y="1002.24" font-size="8.9" text-anchor="middle" stroke="#161616" stroke-width="0.12">8</text>
<line x1="66.61" y1="987.90" x2="64.10" y2="988.56" stroke="#4b5050" stroke-width="0.9"/>
<text x="58.91" y="998.54" font-size="8.9" text-anchor="middle" stroke="#161616" stroke-width="0.12">9</text>
<line x1="141.40" y1="1021.20" x2="143.78" y2="1022.26" stroke="#4b5050" stroke-width="0.9"/>
<text x="149.70" y="1032.44" font-size="8.9" text-anchor="middle" stroke="#161616" stroke-width="0.12">0</text>
<line x1="163.02" y1="1015.50" x2="165.40" y2="1016.56" stroke="#4b5050" stroke-width="0.9"/>
<text x="177.22" y="1027.84" font-size="8.9" text-anchor="middle" stroke="#161616" stroke-width="0.12">0.01</text>
<line x1="184.64" y1="1009.80" x2="187.02" y2="1010.86" stroke="#4b5050" stroke-width="0.9"/>
<text x="198.84" y="1022.14" font-size="8.9" text-anchor="middle" stroke="#161616" stroke-width="0.12">0.02</text>
<line x1="206.26" y1="1004.10" x2="208.64" y2="1005.16" stroke="#4b5050" stroke-width="0.9"/>
<text x="220.46" y="1016.44" font-size="8.9" text-anchor="middle" stroke="#161616" stroke-width="0.12">0.03</text>
<line x1="227.88" y1="998.40" x2="230.26" y2="999.46" stroke="#4b5050" stroke-width="0.9"/>
<text x="242.08" y="1010.74" font-size="8.9" text-anchor="middle" stroke="#161616" stroke-width="0.12">0.04</text>
<line x1="249.50" y1="992.70" x2="251.88" y2="993.76" stroke="#4b5050" stroke-width="0.9"/>
<text x="263.70" y="1005.04" font-size="8.9" text-anchor="middle" stroke="#161616" stroke-width="0.12">0.05</text>
<text x="34.20" y="944.20" font-size="10.1" text-anchor="middle" transform="rotate(-90.00 34.20 944.20)" stroke="#161616" stroke-width="0.12">Force(N)</text>
<text x="80.17" y="1027.47" font-size="10.1" text-anchor="middle" transform="rotate(24.00 80.17 1027.47)" stroke="#161616" stroke-width="0.12">Location</text>
<text x="218.37" y="1034.63" font-size="10.1" text-anchor="middle" transform="rotate(-14.77 218.37 1034.63)" stroke="#161616" stroke-width="0.12">Time(s)</text>
<text x="119.80" y="865.50" font-size="10.4" font-style="italic" stroke="#161616" stroke-width="0.12">l</text>
<text x="122.40" y="869.90" font-size="8.3" stroke="#161616" stroke-width="0.12">0</text>
<text x="127.40" y="865.50" font-size="10.4" stroke="#161616" stroke-width="0.12">-regularization</text>
<rect x="115.20" y="891.00" width="73.60" height="34.70" fill="#f8f8fc" stroke="#a9b1b4" stroke-width="0.8" rx="2"/>
<text x="118.70" y="901.70" font-size="8.1" fill="#404040" xml:space="preserve">Time(s) <tspan fill="#1f9ff2" font-weight="bold">0.00283203</tspan></text>
<text x="118.70" y="911.35" font-size="8.1" fill="#404040" xml:space="preserve">Location <tspan fill="#1f9ff2" font-weight="bold">4</tspan></text>
<text x="118.70" y="921.00" font-size="8.1" fill="#404040" xml:space="preserve">Force(s) <tspan fill="#1f9ff2" font-weight="bold">120.075</tspan></text>
<circle cx="114.28" cy="926.01" r="1.1" fill="#111"/>
<line x1="407.50" y1="160.79" x2="547.92" y2="123.84" stroke="#e2e5e5" stroke-width="0.7"/>
<line x1="407.50" y1="140.39" x2="548.02" y2="103.67" stroke="#e2e5e5" stroke-width="0.7"/>
<line x1="407.50" y1="119.99" x2="548.11" y2="83.50" stroke="#e2e5e5" stroke-width="0.7"/>
<line x1="407.50" y1="99.59" x2="548.21" y2="63.34" stroke="#e2e5e5" stroke-width="0.7"/>
<line x1="407.50" y1="79.20" x2="548.30" y2="43.17" stroke="#e2e5e5" stroke-width="0.7"/>
<line x1="407.50" y1="58.80" x2="548.40" y2="23.00" stroke="#e2e5e5" stroke-width="0.7"/>
<line x1="435.58" y1="158.20" x2="435.68" y2="51.64" stroke="#e2e5e5" stroke-width="0.7"/>
<line x1="463.66" y1="150.80" x2="463.86" y2="44.48" stroke="#e2e5e5" stroke-width="0.7"/>
<line x1="491.74" y1="143.40" x2="492.04" y2="37.32" stroke="#e2e5e5" stroke-width="0.7"/>
<line x1="519.82" y1="136.00" x2="520.22" y2="30.16" stroke="#e2e5e5" stroke-width="0.7"/>
<line x1="547.90" y1="128.60" x2="548.40" y2="23.00" stroke="#e2e5e5" stroke-width="0.7"/>
<line x1="656.32" y1="171.63" x2="547.92" y2="123.84" stroke="#e2e5e5" stroke-width="0.7"/>
<line x1="656.39" y1="151.40" x2="548.02" y2="103.67" stroke="#e2e5e5" stroke-width="0.7"/>
<line x1="656.47" y1="131.18" x2="548.11" y2="83.50" stroke="#e2e5e5" stroke-width="0.7"/>
<line x1="656.55" y1="110.95" x2="548.21" y2="63.34" stroke="#e2e5e5" stroke-width="0.7"/>
<line x1="656.62" y1="90.73" x2="548.30" y2="43.17" stroke="#e2e5e5" stroke-width="0.7"/>
<line x1="656.70" y1="70.50" x2="548.40" y2="23.00" stroke="#e2e5e5" stroke-width="0.7"/>
<line x1="656.30" y1="176.40" x2="656.70" y2="70.50" stroke="#e2e5e5" stroke-width="0.7"/>
<line x1="645.46" y1="171.62" x2="645.87" y2="65.75" stroke="#e2e5e5" stroke-width="0.7"/>
<line x1="634.62" y1="166.84" x2="635.04" y2="61.00" stroke="#e2e5e5" stroke-width="0.7"/>
<line x1="623.78" y1="162.06" x2="624.21" y2="56.25" stroke="#e2e5e5" stroke-width="0.7"/>
<line x1="612.94" y1="157.28" x2="613.38" y2="51.50" stroke="#e2e5e5" stroke-width="0.7"/>
<line x1="602.10" y1="152.50" x2="602.55" y2="46.75" stroke="#e2e5e5" stroke-width="0.7"/>
<line x1="591.26" y1="147.72" x2="591.72" y2="42.00" stroke="#e2e5e5" stroke-width="0.7"/>
<line x1="580.42" y1="142.94" x2="580.89" y2="37.25" stroke="#e2e5e5" stroke-width="0.7"/>
<line x1="569.58" y1="138.16" x2="570.06" y2="32.50" stroke="#e2e5e5" stroke-width="0.7"/>
<line x1="558.74" y1="133.38" x2="559.23" y2="27.75" stroke="#e2e5e5" stroke-width="0.7"/>
<line x1="515.90" y1="213.40" x2="656.30" y2="176.40" stroke="#e2e5e5" stroke-width="0.7"/>
<line x1="505.06" y1="208.62" x2="645.46" y2="171.62" stroke="#e2e5e5" stroke-width="0.7"/>
<line x1="494.22" y1="203.84" x2="634.62" y2="166.84" stroke="#e2e5e5" stroke-width="0.7"/>
<line x1="483.38" y1="199.06" x2="623.78" y2="162.06" stroke="#e2e5e5" stroke-width="0.7"/>
<line x1="472.54" y1="194.28" x2="612.94" y2="157.28" stroke="#e2e5e5" stroke-width="0.7"/>
<line x1="461.70" y1="189.50" x2="602.10" y2="152.50" stroke="#e2e5e5" stroke-width="0.7"/>
<line x1="450.86" y1="184.72" x2="591.26" y2="147.72" stroke="#e2e5e5" stroke-width="0.7"/>
<line x1="440.02" y1="179.94" x2="580.42" y2="142.94" stroke="#e2e5e5" stroke-width="0.7"/>
<line x1="429.18" y1="175.16" x2="569.58" y2="138.16" stroke="#e2e5e5" stroke-width="0.7"/>
<line x1="418.34" y1="170.38" x2="558.74" y2="133.38" stroke="#e2e5e5" stroke-width="0.7"/>
<line x1="543.98" y1="206.00" x2="435.58" y2="158.20" stroke="#e2e5e5" stroke-width="0.7"/>
<line x1="572.06" y1="198.60" x2="463.66" y2="150.80" stroke="#e2e5e5" stroke-width="0.7"/>
<line x1="600.14" y1="191.20" x2="491.74" y2="143.40" stroke="#e2e5e5" stroke-width="0.7"/>
<line x1="628.22" y1="183.80" x2="519.82" y2="136.00" stroke="#e2e5e5" stroke-width="0.7"/>
<line x1="656.30" y1="176.40" x2="547.90" y2="128.60" stroke="#e2e5e5" stroke-width="0.7"/>
<polygon points="418.34,170.38 418.34,165.56 558.76,128.62 558.74,133.38" fill="#fff" stroke="none"/>
<polyline points="418.34,170.38 418.34,165.56 558.76,128.62 558.74,133.38" fill="none" stroke="#e8553c" stroke-width="1.3" stroke-linejoin="round"/>
<polygon points="429.18,175.16 429.18,170.34 569.60,133.40 569.58,138.16" fill="#fff" stroke="none"/>
<polyline points="429.18,175.16 429.18,170.34 569.60,133.40 569.58,138.16" fill="none" stroke="#2f8fef" stroke-width="1.3" stroke-linejoin="round"/>
<polygon points="440.02,179.94 440.02,175.12 580.44,138.18 580.42,142.94" fill="#fff" stroke="none"/>
<polyline points="440.02,179.94 440.02,175.12 580.44,138.18 580.42,142.94" fill="none" stroke="#b53a80" stroke-width="1.3" stroke-linejoin="round"/>
<polygon points="450.86,184.72 450.86,179.90 463.92,176.46 464.34,173.90 464.76,176.24 591.28,142.95 591.26,147.72" fill="#fff" stroke="none"/>
<polyline points="450.86,184.72 450.86,179.90 463.92,176.46 464.34,173.90 464.76,176.24 591.28,142.95 591.26,147.72" fill="none" stroke="#5cdcf2" stroke-width="1.3" stroke-linejoin="round"/>
<polygon points="461.70,189.50 461.70,184.67 602.12,147.73 602.10,152.50" fill="#fff" stroke="none"/>
<polyline points="461.70,189.50 461.70,184.67 602.12,147.73 602.10,152.50" fill="none" stroke="#74d23c" stroke-width="1.3" stroke-linejoin="round"/>
<polygon points="472.54,194.28 472.54,189.45 479.95,187.50 480.23,139.79 480.51,92.09 480.79,117.74 481.06,149.11 481.31,170.95 481.58,182.31 481.86,187.00 612.96,152.51 612.94,157.28" fill="#fff" stroke="none"/>
<polyline points="472.54,194.28 472.54,189.45 479.95,187.50 480.23,139.79 480.51,92.09 480.79,117.74 481.06,149.11 481.31,170.95 481.58,182.31 481.86,187.00 612.96,152.51 612.94,157.28" fill="none" stroke="#8b47e2" stroke-width="1.3" stroke-linejoin="round"/>
<polygon points="483.38,199.06 483.38,194.23 623.80,157.29 623.78,162.06" fill="#fff" stroke="none"/>
<polyline points="483.38,199.06 483.38,194.23 623.80,157.29 623.78,162.06" fill="none" stroke="#f0b335" stroke-width="1.3" stroke-linejoin="round"/>
<polygon points="494.22,203.84 494.22,199.01 634.64,162.07 634.62,166.84" fill="#fff" stroke="none"/>
<polyline points="494.22,203.84 494.22,199.01 634.64,162.07 634.62,166.84" fill="none" stroke="#e8553c" stroke-width="1.3" stroke-linejoin="round"/>
<polygon points="505.06,208.62 505.06,203.79 645.48,166.85 645.46,171.62" fill="#fff" stroke="none"/>
<polyline points="505.06,208.62 505.06,203.79 645.48,166.85 645.46,171.62" fill="none" stroke="#2f8fef" stroke-width="1.3" stroke-linejoin="round"/>
<line x1="407.50" y1="165.60" x2="407.50" y2="58.80" stroke="#4b5050" stroke-width="0.9"/>
<line x1="407.50" y1="165.60" x2="515.90" y2="213.40" stroke="#4b5050" stroke-width="0.9"/>
<line x1="515.90" y1="213.40" x2="656.30" y2="176.40" stroke="#4b5050" stroke-width="0.9"/>
<line x1="407.50" y1="160.79" x2="404.39" y2="159.41" stroke="#4b5050" stroke-width="0.9"/>
<text x="399.70" y="162.55" font-size="11.1" text-anchor="end" stroke="#161616" stroke-width="0.12">0</text>
<line x1="407.50" y1="140.39" x2="404.39" y2="139.02" stroke="#4b5050" stroke-width="0.9"/>
<text x="399.70" y="142.15" font-size="11.1" text-anchor="end" stroke="#161616" stroke-width="0.12">25</text>
<line x1="407.50" y1="119.99" x2="404.39" y2="118.62" stroke="#4b5050" stroke-width="0.9"/>
<text x="399.70" y="121.75" font-size="11.1" text-anchor="end" stroke="#161616" stroke-width="0.12">50</text>
<line x1="407.50" y1="99.59" x2="404.39" y2="98.22" stroke="#4b5050" stroke-width="0.9"/>
<text x="399.70" y="101.36" font-size="11.1" text-anchor="end" stroke="#161616" stroke-width="0.12">75</text>
<line x1="407.50" y1="79.20" x2="404.39" y2="77.83" stroke="#4b5050" stroke-width="0.9"/>
<text x="399.70" y="80.96" font-size="11.1" text-anchor="end" stroke="#161616" stroke-width="0.12">100</text>
<line x1="407.50" y1="58.80" x2="404.39" y2="57.43" stroke="#4b5050" stroke-width="0.9"/>
<text x="399.70" y="60.56" font-size="11.1" text-anchor="end" stroke="#161616" stroke-width="0.12">125</text>
<line x1="515.90" y1="213.40" x2="512.61" y2="214.27" stroke="#4b5050" stroke-width="0.9"/>
<text x="505.10" y="227.26" font-size="11.1" text-anchor="middle" stroke="#161616" stroke-width="0.12">0</text>
<line x1="505.06" y1="208.62" x2="501.77" y2="209.49" stroke="#4b5050" stroke-width="0.9"/>
<text x="494.26" y="222.48" font-size="11.1" text-anchor="middle" stroke="#161616" stroke-width="0.12">1</text>
<line x1="494.22" y1="203.84" x2="490.93" y2="204.71" stroke="#4b5050" stroke-width="0.9"/>
<text x="483.42" y="217.70" font-size="11.1" text-anchor="middle" stroke="#161616" stroke-width="0.12">2</text>
<line x1="483.38" y1="199.06" x2="480.09" y2="199.93" stroke="#4b5050" stroke-width="0.9"/>
<text x="472.58" y="212.92" font-size="11.1" text-anchor="middle" stroke="#161616" stroke-width="0.12">3</text>
<line x1="472.54" y1="194.28" x2="469.25" y2="195.15" stroke="#4b5050" stroke-width="0.9"/>
<text x="461.74" y="208.14" font-size="11.1" text-anchor="middle" stroke="#161616" stroke-width="0.12">4</text>
<line x1="461.70" y1="189.50" x2="458.41" y2="190.37" stroke="#4b5050" stroke-width="0.9"/>
<text x="450.90" y="203.36" font-size="11.1" text-anchor="middle" stroke="#161616" stroke-width="0.12">5</text>
<line x1="450.86" y1="184.72" x2="447.57" y2="185.59" stroke="#4b5050" stroke-width="0.9"/>
<text x="440.06" y="198.58" font-size="11.1" text-anchor="middle" stroke="#161616" stroke-width="0.12">6</text>
<line x1="440.02" y1="179.94" x2="436.73" y2="180.81" stroke="#4b5050" stroke-width="0.9"/>
<text x="429.22" y="193.80" font-size="11.1" text-anchor="middle" stroke="#161616" stroke-width="0.12">7</text>
<line x1="429.18" y1="175.16" x2="425.89" y2="176.03" stroke="#4b5050" stroke-width="0.9"/>
<text x="418.38" y="189.02" font-size="11.1" text-anchor="middle" stroke="#161616" stroke-width="0.12">8</text>
<line x1="418.34" y1="170.38" x2="415.05" y2="171.25" stroke="#4b5050" stroke-width="0.9"/>
<text x="407.54" y="184.24" font-size="11.1" text-anchor="middle" stroke="#161616" stroke-width="0.12">9</text>
<line x1="515.90" y1="213.40" x2="519.01" y2="214.77" stroke="#4b5050" stroke-width="0.9"/>
<text x="525.90" y="227.66" font-size="11.1" text-anchor="middle" stroke="#161616" stroke-width="0.12">0</text>
<line x1="543.98" y1="206.00" x2="547.09" y2="207.37" stroke="#4b5050" stroke-width="0.9"/>
<text x="561.18" y="221.26" font-size="11.1" text-anchor="middle" stroke="#161616" stroke-width="0.12">0.01</text>
<line x1="572.06" y1="198.60" x2="575.17" y2="199.97" stroke="#4b5050" stroke-width="0.9"/>
<text x="589.26" y="213.86" font-size="11.1" text-anchor="middle" stroke="#161616" stroke-width="0.12">0.02</text>
<line x1="600.14" y1="191.20" x2="603.25" y2="192.57" stroke="#4b5050" stroke-width="0.9"/>
<text x="617.34" y="206.46" font-size="11.1" text-anchor="middle" stroke="#161616" stroke-width="0.12">0.03</text>
<line x1="628.22" y1="183.80" x2="631.33" y2="185.17" stroke="#4b5050" stroke-width="0.9"/>
<text x="645.42" y="199.06" font-size="11.1" text-anchor="middle" stroke="#161616" stroke-width="0.12">0.04</text>
<line x1="656.30" y1="176.40" x2="659.41" y2="177.77" stroke="#4b5050" stroke-width="0.9"/>
<text x="673.50" y="191.66" font-size="11.1" text-anchor="middle" stroke="#161616" stroke-width="0.12">0.05</text>
<text x="375.60" y="112.60" font-size="13.2" text-anchor="middle" transform="rotate(-90.00 375.60 112.60)" stroke="#161616" stroke-width="0.12">Force(N)</text>
<text x="435.40" y="220.62" font-size="13.2" text-anchor="middle" transform="rotate(23.80 435.40 220.62)" stroke="#161616" stroke-width="0.12">Location</text>
<text x="615.01" y="230.63" font-size="13.2" text-anchor="middle" transform="rotate(-14.76 615.01 230.63)" stroke="#161616" stroke-width="0.12">Time(s)</text>
<text x="487.60" y="12.00" font-size="13.2" font-style="italic" stroke="#161616" stroke-width="0.12">l</text>
<text x="491.80" y="17.40" font-size="10.5" stroke="#161616" stroke-width="0.12">1</text>
<text x="497.00" y="12.00" font-size="13.2" stroke="#161616" stroke-width="0.12">-regularization</text>
<rect x="481.30" y="46.90" width="96.20" height="45.30" fill="#f8f8fc" stroke="#a9b1b4" stroke-width="0.8" rx="2"/>
<text x="485.70" y="61.00" font-size="10.5" fill="#404040" xml:space="preserve">Time(s) <tspan fill="#1f9ff2" font-weight="bold">0.00283203</tspan></text>
<text x="485.70" y="73.85" font-size="10.5" fill="#404040" xml:space="preserve">Location <tspan fill="#1f9ff2" font-weight="bold">4</tspan></text>
<text x="485.70" y="86.70" font-size="10.5" fill="#404040" xml:space="preserve">Force(N) <tspan fill="#1f9ff2" font-weight="bold">116.526</tspan></text>
<circle cx="480.52" cy="92.09" r="1.4" fill="#111"/>
<polyline points="406.60,458.60 418.10,458.60 419.00,461.76 419.80,460.06 420.25,382.15 420.75,305.70 421.25,346.96 421.75,395.50 422.20,433.12 422.70,451.32 423.20,458.60 424.60,460.18 429.10,458.96 656.60,458.60" fill="none" stroke="#ff2424" stroke-width="1.3" stroke-linejoin="round"/>
<polyline points="406.60,458.60 419.35,458.60 419.80,459.21 420.25,382.15 420.75,311.77 421.25,351.81 421.75,400.35 422.20,440.40 422.70,458.60 424.60,459.81 429.10,458.60 656.60,458.60" fill="none" stroke="#2a40ff" stroke-width="1.3" stroke-linejoin="round" stroke-dasharray="5.5,3.2"/>
<rect x="406.60" y="293.50" width="250.00" height="182.90" fill="none" stroke="#333333" stroke-width="0.9" rx="0"/>
<text x="406.60" y="491.90" font-size="11.5" text-anchor="middle" stroke="#161616" stroke-width="0.12">0</text>
<line x1="456.60" y1="476.40" x2="456.60" y2="473.90" stroke="#333333" stroke-width="0.9"/>
<line x1="456.60" y1="293.50" x2="456.60" y2="296.00" stroke="#333333" stroke-width="0.9"/>
<text x="456.60" y="491.90" font-size="11.5" text-anchor="middle" stroke="#161616" stroke-width="0.12">0.01</text>
<line x1="506.60" y1="476.40" x2="506.60" y2="473.90" stroke="#333333" stroke-width="0.9"/>
<line x1="506.60" y1="293.50" x2="506.60" y2="296.00" stroke="#333333" stroke-width="0.9"/>
<text x="506.60" y="491.90" font-size="11.5" text-anchor="middle" stroke="#161616" stroke-width="0.12">0.02</text>
<line x1="556.60" y1="476.40" x2="556.60" y2="473.90" stroke="#333333" stroke-width="0.9"/>
<line x1="556.60" y1="293.50" x2="556.60" y2="296.00" stroke="#333333" stroke-width="0.9"/>
<text x="556.60" y="491.90" font-size="11.5" text-anchor="middle" stroke="#161616" stroke-width="0.12">0.03</text>
<line x1="606.60" y1="476.40" x2="606.60" y2="473.90" stroke="#333333" stroke-width="0.9"/>
<line x1="606.60" y1="293.50" x2="606.60" y2="296.00" stroke="#333333" stroke-width="0.9"/>
<text x="606.60" y="491.90" font-size="11.5" text-anchor="middle" stroke="#161616" stroke-width="0.12">0.04</text>
<text x="656.60" y="491.90" font-size="11.5" text-anchor="middle" stroke="#161616" stroke-width="0.12">0.05</text>
<line x1="406.60" y1="458.60" x2="409.10" y2="458.60" stroke="#333333" stroke-width="0.9"/>
<line x1="656.60" y1="458.60" x2="654.10" y2="458.60" stroke="#333333" stroke-width="0.9"/>
<text x="402.40" y="462.00" font-size="11.5" text-anchor="end" stroke="#161616" stroke-width="0.12">0</text>
<line x1="406.60" y1="434.33" x2="409.10" y2="434.33" stroke="#333333" stroke-width="0.9"/>
<line x1="656.60" y1="434.33" x2="654.10" y2="434.33" stroke="#333333" stroke-width="0.9"/>
<text x="402.40" y="437.73" font-size="11.5" text-anchor="end" stroke="#161616" stroke-width="0.12">20</text>
<line x1="406.60" y1="410.06" x2="409.10" y2="410.06" stroke="#333333" stroke-width="0.9"/>
<line x1="656.60" y1="410.06" x2="654.10" y2="410.06" stroke="#333333" stroke-width="0.9"/>
<text x="402.40" y="413.46" font-size="11.5" text-anchor="end" stroke="#161616" stroke-width="0.12">40</text>
<line x1="406.60" y1="385.79" x2="409.10" y2="385.79" stroke="#333333" stroke-width="0.9"/>
<line x1="656.60" y1="385.79" x2="654.10" y2="385.79" stroke="#333333" stroke-width="0.9"/>
<text x="402.40" y="389.19" font-size="11.5" text-anchor="end" stroke="#161616" stroke-width="0.12">60</text>
<line x1="406.60" y1="361.52" x2="409.10" y2="361.52" stroke="#333333" stroke-width="0.9"/>
<line x1="656.60" y1="361.52" x2="654.10" y2="361.52" stroke="#333333" stroke-width="0.9"/>
<text x="402.40" y="364.92" font-size="11.5" text-anchor="end" stroke="#161616" stroke-width="0.12">80</text>
<line x1="406.60" y1="337.25" x2="409.10" y2="337.25" stroke="#333333" stroke-width="0.9"/>
<line x1="656.60" y1="337.25" x2="654.10" y2="337.25" stroke="#333333" stroke-width="0.9"/>
<text x="402.40" y="340.65" font-size="11.5" text-anchor="end" stroke="#161616" stroke-width="0.12">100</text>
<line x1="406.60" y1="312.98" x2="409.10" y2="312.98" stroke="#333333" stroke-width="0.9"/>
<line x1="656.60" y1="312.98" x2="654.10" y2="312.98" stroke="#333333" stroke-width="0.9"/>
<text x="402.40" y="316.38" font-size="11.5" text-anchor="end" stroke="#161616" stroke-width="0.12">120</text>
<text x="531.60" y="508.50" font-size="13.3" text-anchor="middle" stroke="#161616" stroke-width="0.12">Time(s)</text>
<text x="378.80" y="385.50" font-size="13.5" text-anchor="middle" transform="rotate(-90.00 378.80 385.50)" stroke="#161616" stroke-width="0.12">Force(N)</text>
<text x="469.80" y="282.50" font-size="13.4" font-style="italic" stroke="#161616" stroke-width="0.12">l</text>
<text x="472.80" y="288.60" font-size="12.0" stroke="#161616" stroke-width="0.12">0.6</text>
<text x="488.20" y="282.50" font-size="13.4" stroke="#161616" stroke-width="0.12">-regularization(# 4)</text>
<line x1="459.00" y1="307.60" x2="482.00" y2="307.60" stroke="#ff2424" stroke-width="1.3"/>
<text x="484.00" y="312.00" font-size="11.0" fill="#000" stroke="#000" stroke-width="0.12">Real force</text>
<line x1="534.00" y1="307.60" x2="558.00" y2="307.60" stroke="#2a40ff" stroke-width="1.3" stroke-dasharray="5,3"/>
<text x="559.80" y="312.00" font-size="11.0" fill="#000" stroke="#000" stroke-width="0.12">Reconstructed force</text>
<rect x="477.5" y="325.0" width="129.10" height="96.30" fill="#fff" stroke="none"/>
<polyline points="477.40,418.70 483.10,419.80 495.40,417.00 507.70,419.80 520.80,366.90 533.10,325.60 546.60,351.00 558.90,379.60 571.20,401.80 584.30,414.00 597.00,418.00 606.50,418.00" fill="none" stroke="#ff2424" stroke-width="1.3" stroke-linejoin="round"/>
<polyline points="477.40,418.10 495.40,417.70 505.50,418.90 507.70,418.00 520.80,365.80 533.10,328.80 546.60,355.20 558.90,382.70 571.20,405.00 584.30,418.00 606.50,418.00" fill="none" stroke="#2a40ff" stroke-width="1.3" stroke-linejoin="round" stroke-dasharray="5.5,3.2"/>
<rect x="477.50" y="325.00" width="129.10" height="96.30" fill="none" stroke="#333333" stroke-width="0.9" rx="0"/>
<text x="473.60" y="422.80" font-size="10.4" text-anchor="end" stroke="#161616" stroke-width="0.12">0</text>
<line x1="477.50" y1="399.90" x2="479.50" y2="399.90" stroke="#333333" stroke-width="0.9"/>
<line x1="606.60" y1="399.90" x2="604.60" y2="399.90" stroke="#333333" stroke-width="0.9"/>
<text x="473.60" y="404.10" font-size="10.4" text-anchor="end" stroke="#161616" stroke-width="0.12">25</text>
<line x1="477.50" y1="381.20" x2="479.50" y2="381.20" stroke="#333333" stroke-width="0.9"/>
<line x1="606.60" y1="381.20" x2="604.60" y2="381.20" stroke="#333333" stroke-width="0.9"/>
<text x="473.60" y="385.40" font-size="10.4" text-anchor="end" stroke="#161616" stroke-width="0.12">50</text>
<line x1="477.50" y1="362.50" x2="479.50" y2="362.50" stroke="#333333" stroke-width="0.9"/>
<line x1="606.60" y1="362.50" x2="604.60" y2="362.50" stroke="#333333" stroke-width="0.9"/>
<text x="473.60" y="366.70" font-size="10.4" text-anchor="end" stroke="#161616" stroke-width="0.12">75</text>
<line x1="477.50" y1="343.80" x2="479.50" y2="343.80" stroke="#333333" stroke-width="0.9"/>
<line x1="606.60" y1="343.80" x2="604.60" y2="343.80" stroke="#333333" stroke-width="0.9"/>
<text x="473.60" y="348.00" font-size="10.4" text-anchor="end" stroke="#161616" stroke-width="0.12">100</text>
<text x="473.60" y="329.30" font-size="10.4" text-anchor="end" stroke="#161616" stroke-width="0.12">125</text>
<text x="477.50" y="436.20" font-size="10.4" text-anchor="middle" stroke="#161616" stroke-width="0.12">2.4</text>
<line x1="503.32" y1="421.30" x2="503.32" y2="419.30" stroke="#333333" stroke-width="0.9"/>
<line x1="503.32" y1="325.00" x2="503.32" y2="327.00" stroke="#333333" stroke-width="0.9"/>
<text x="503.32" y="436.20" font-size="10.4" text-anchor="middle" stroke="#161616" stroke-width="0.12">2.6</text>
<line x1="529.14" y1="421.30" x2="529.14" y2="419.30" stroke="#333333" stroke-width="0.9"/>
<line x1="529.14" y1="325.00" x2="529.14" y2="327.00" stroke="#333333" stroke-width="0.9"/>
<text x="529.14" y="436.20" font-size="10.4" text-anchor="middle" stroke="#161616" stroke-width="0.12">2.8</text>
<line x1="554.96" y1="421.30" x2="554.96" y2="419.30" stroke="#333333" stroke-width="0.9"/>
<line x1="554.96" y1="325.00" x2="554.96" y2="327.00" stroke="#333333" stroke-width="0.9"/>
<text x="554.96" y="436.20" font-size="10.4" text-anchor="middle" stroke="#161616" stroke-width="0.12">3</text>
<line x1="580.78" y1="421.30" x2="580.78" y2="419.30" stroke="#333333" stroke-width="0.9"/>
<line x1="580.78" y1="325.00" x2="580.78" y2="327.00" stroke="#333333" stroke-width="0.9"/>
<text x="580.78" y="436.20" font-size="10.4" text-anchor="middle" stroke="#161616" stroke-width="0.12">3.2</text>
<text x="606.60" y="436.20" font-size="10.4" text-anchor="middle" stroke="#161616" stroke-width="0.12">3.4</text>
<text x="579.60" y="453.00" font-size="12.6" stroke="#161616" stroke-width="0.12">×</text>
<text x="588.60" y="452.60" font-size="10.4" stroke="#161616" stroke-width="0.12">10</text>
<text x="599.40" y="447.60" font-size="8.4" stroke="#161616" stroke-width="0.12">-3</text>
<polyline points="406.60,729.70 418.10,729.70 419.00,732.86 419.80,731.16 420.25,653.25 420.75,576.80 421.25,618.06 421.75,666.60 422.20,704.22 422.70,722.42 423.20,729.70 424.60,731.28 429.10,730.06 656.60,729.70" fill="none" stroke="#ff2424" stroke-width="1.3" stroke-linejoin="round"/>
<polyline points="406.60,729.70 413.60,729.70 414.60,732.73 415.60,729.70 419.35,729.70 419.80,730.31 420.25,654.46 420.75,585.29 421.25,625.34 421.75,672.67 422.20,712.71 422.70,729.70 424.60,730.91 429.10,729.70 437.10,729.70 437.60,726.06 438.10,722.42 438.60,729.70 656.60,729.70" fill="none" stroke="#2a40ff" stroke-width="1.3" stroke-linejoin="round" stroke-dasharray="5.5,3.2"/>
<rect x="406.60" y="564.60" width="250.00" height="182.90" fill="none" stroke="#333333" stroke-width="0.9" rx="0"/>
<text x="406.60" y="763.00" font-size="11.5" text-anchor="middle" stroke="#161616" stroke-width="0.12">0</text>
<line x1="456.60" y1="747.50" x2="456.60" y2="745.00" stroke="#333333" stroke-width="0.9"/>
<line x1="456.60" y1="564.60" x2="456.60" y2="567.10" stroke="#333333" stroke-width="0.9"/>
<text x="456.60" y="763.00" font-size="11.5" text-anchor="middle" stroke="#161616" stroke-width="0.12">0.01</text>
<line x1="506.60" y1="747.50" x2="506.60" y2="745.00" stroke="#333333" stroke-width="0.9"/>
<line x1="506.60" y1="564.60" x2="506.60" y2="567.10" stroke="#333333" stroke-width="0.9"/>
<text x="506.60" y="763.00" font-size="11.5" text-anchor="middle" stroke="#161616" stroke-width="0.12">0.02</text>
<line x1="556.60" y1="747.50" x2="556.60" y2="745.00" stroke="#333333" stroke-width="0.9"/>
<line x1="556.60" y1="564.60" x2="556.60" y2="567.10" stroke="#333333" stroke-width="0.9"/>
<text x="556.60" y="763.00" font-size="11.5" text-anchor="middle" stroke="#161616" stroke-width="0.12">0.03</text>
<line x1="606.60" y1="747.50" x2="606.60" y2="745.00" stroke="#333333" stroke-width="0.9"/>
<line x1="606.60" y1="564.60" x2="606.60" y2="567.10" stroke="#333333" stroke-width="0.9"/>
<text x="606.60" y="763.00" font-size="11.5" text-anchor="middle" stroke="#161616" stroke-width="0.12">0.04</text>
<text x="656.60" y="763.00" font-size="11.5" text-anchor="middle" stroke="#161616" stroke-width="0.12">0.05</text>
<line x1="406.60" y1="729.70" x2="409.10" y2="729.70" stroke="#333333" stroke-width="0.9"/>
<line x1="656.60" y1="729.70" x2="654.10" y2="729.70" stroke="#333333" stroke-width="0.9"/>
<text x="402.40" y="733.10" font-size="11.5" text-anchor="end" stroke="#161616" stroke-width="0.12">0</text>
<line x1="406.60" y1="705.43" x2="409.10" y2="705.43" stroke="#333333" stroke-width="0.9"/>
<line x1="656.60" y1="705.43" x2="654.10" y2="705.43" stroke="#333333" stroke-width="0.9"/>
<text x="402.40" y="708.83" font-size="11.5" text-anchor="end" stroke="#161616" stroke-width="0.12">20</text>
<line x1="406.60" y1="681.16" x2="409.10" y2="681.16" stroke="#333333" stroke-width="0.9"/>
<line x1="656.60" y1="681.16" x2="654.10" y2="681.16" stroke="#333333" stroke-width="0.9"/>
<text x="402.40" y="684.56" font-size="11.5" text-anchor="end" stroke="#161616" stroke-width="0.12">40</text>
<line x1="406.60" y1="656.89" x2="409.10" y2="656.89" stroke="#333333" stroke-width="0.9"/>
<line x1="656.60" y1="656.89" x2="654.10" y2="656.89" stroke="#333333" stroke-width="0.9"/>
<text x="402.40" y="660.29" font-size="11.5" text-anchor="end" stroke="#161616" stroke-width="0.12">60</text>
<line x1="406.60" y1="632.62" x2="409.10" y2="632.62" stroke="#333333" stroke-width="0.9"/>
<line x1="656.60" y1="632.62" x2="654.10" y2="632.62" stroke="#333333" stroke-width="0.9"/>
<text x="402.40" y="636.02" font-size="11.5" text-anchor="end" stroke="#161616" stroke-width="0.12">80</text>
<line x1="406.60" y1="608.35" x2="409.10" y2="608.35" stroke="#333333" stroke-width="0.9"/>
<line x1="656.60" y1="608.35" x2="654.10" y2="608.35" stroke="#333333" stroke-width="0.9"/>
<text x="402.40" y="611.75" font-size="11.5" text-anchor="end" stroke="#161616" stroke-width="0.12">100</text>
<line x1="406.60" y1="584.08" x2="409.10" y2="584.08" stroke="#333333" stroke-width="0.9"/>
<line x1="656.60" y1="584.08" x2="654.10" y2="584.08" stroke="#333333" stroke-width="0.9"/>
<text x="402.40" y="587.48" font-size="11.5" text-anchor="end" stroke="#161616" stroke-width="0.12">120</text>
<text x="531.60" y="779.60" font-size="13.3" text-anchor="middle" stroke="#161616" stroke-width="0.12">Time(s)</text>
<text x="378.80" y="656.60" font-size="13.5" text-anchor="middle" transform="rotate(-90.00 378.80 656.60)" stroke="#161616" stroke-width="0.12">Force(N)</text>
<text x="473.60" y="553.60" font-size="13.4" font-style="italic" stroke="#161616" stroke-width="0.12">l</text>
<text x="477.00" y="559.70" font-size="12.0" stroke="#161616" stroke-width="0.12">0</text>
<text x="483.20" y="553.60" font-size="13.4" stroke="#161616" stroke-width="0.12">-regularization(# 4)</text>
<line x1="459.00" y1="578.70" x2="482.00" y2="578.70" stroke="#ff2424" stroke-width="1.3"/>
<text x="484.00" y="583.10" font-size="11.0" fill="#000" stroke="#000" stroke-width="0.12">Real force</text>
<line x1="534.00" y1="578.70" x2="558.00" y2="578.70" stroke="#2a40ff" stroke-width="1.3" stroke-dasharray="5,3"/>
<text x="559.80" y="583.10" font-size="11.0" fill="#000" stroke="#000" stroke-width="0.12">Reconstructed force</text>
<rect x="477.5" y="596.1" width="129.10" height="96.30" fill="#fff" stroke="none"/>
<polyline points="477.40,689.80 483.10,690.90 495.40,688.10 507.70,690.90 520.80,638.00 533.10,596.70 546.60,622.10 558.90,650.70 571.20,672.90 584.30,685.10 597.00,689.10 606.50,689.10" fill="none" stroke="#ff2424" stroke-width="1.3" stroke-linejoin="round"/>
<polyline points="477.40,689.20 495.40,688.80 505.50,690.00 507.70,689.10 520.80,638.10 533.10,601.10 546.60,628.60 558.90,654.60 571.20,677.10 584.30,689.10 606.50,689.10" fill="none" stroke="#2a40ff" stroke-width="1.3" stroke-linejoin="round" stroke-dasharray="5.5,3.2"/>
<rect x="477.50" y="596.10" width="129.10" height="96.30" fill="none" stroke="#333333" stroke-width="0.9" rx="0"/>
<text x="473.60" y="693.90" font-size="10.4" text-anchor="end" stroke="#161616" stroke-width="0.12">0</text>
<line x1="477.50" y1="671.00" x2="479.50" y2="671.00" stroke="#333333" stroke-width="0.9"/>
<line x1="606.60" y1="671.00" x2="604.60" y2="671.00" stroke="#333333" stroke-width="0.9"/>
<text x="473.60" y="675.20" font-size="10.4" text-anchor="end" stroke="#161616" stroke-width="0.12">25</text>
<line x1="477.50" y1="652.30" x2="479.50" y2="652.30" stroke="#333333" stroke-width="0.9"/>
<line x1="606.60" y1="652.30" x2="604.60" y2="652.30" stroke="#333333" stroke-width="0.9"/>
<text x="473.60" y="656.50" font-size="10.4" text-anchor="end" stroke="#161616" stroke-width="0.12">50</text>
<line x1="477.50" y1="633.60" x2="479.50" y2="633.60" stroke="#333333" stroke-width="0.9"/>
<line x1="606.60" y1="633.60" x2="604.60" y2="633.60" stroke="#333333" stroke-width="0.9"/>
<text x="473.60" y="637.80" font-size="10.4" text-anchor="end" stroke="#161616" stroke-width="0.12">75</text>
<line x1="477.50" y1="614.90" x2="479.50" y2="614.90" stroke="#333333" stroke-width="0.9"/>
<line x1="606.60" y1="614.90" x2="604.60" y2="614.90" stroke="#333333" stroke-width="0.9"/>
<text x="473.60" y="619.10" font-size="10.4" text-anchor="end" stroke="#161616" stroke-width="0.12">100</text>
<text x="473.60" y="600.40" font-size="10.4" text-anchor="end" stroke="#161616" stroke-width="0.12">125</text>
<text x="477.50" y="707.30" font-size="10.4" text-anchor="middle" stroke="#161616" stroke-width="0.12">2.4</text>
<line x1="503.32" y1="692.40" x2="503.32" y2="690.40" stroke="#333333" stroke-width="0.9"/>
<line x1="503.32" y1="596.10" x2="503.32" y2="598.10" stroke="#333333" stroke-width="0.9"/>
<text x="503.32" y="707.30" font-size="10.4" text-anchor="middle" stroke="#161616" stroke-width="0.12">2.6</text>
<line x1="529.14" y1="692.40" x2="529.14" y2="690.40" stroke="#333333" stroke-width="0.9"/>
<line x1="529.14" y1="596.10" x2="529.14" y2="598.10" stroke="#333333" stroke-width="0.9"/>
<text x="529.14" y="707.30" font-size="10.4" text-anchor="middle" stroke="#161616" stroke-width="0.12">2.8</text>
<line x1="554.96" y1="692.40" x2="554.96" y2="690.40" stroke="#333333" stroke-width="0.9"/>
<line x1="554.96" y1="596.10" x2="554.96" y2="598.10" stroke="#333333" stroke-width="0.9"/>
<text x="554.96" y="707.30" font-size="10.4" text-anchor="middle" stroke="#161616" stroke-width="0.12">3</text>
<line x1="580.78" y1="692.40" x2="580.78" y2="690.40" stroke="#333333" stroke-width="0.9"/>
<line x1="580.78" y1="596.10" x2="580.78" y2="598.10" stroke="#333333" stroke-width="0.9"/>
<text x="580.78" y="707.30" font-size="10.4" text-anchor="middle" stroke="#161616" stroke-width="0.12">3.2</text>
<text x="606.60" y="707.30" font-size="10.4" text-anchor="middle" stroke="#161616" stroke-width="0.12">3.4</text>
<text x="579.60" y="724.10" font-size="12.6" stroke="#161616" stroke-width="0.12">×</text>
<text x="588.60" y="723.70" font-size="10.4" stroke="#161616" stroke-width="0.12">10</text>
<text x="599.40" y="718.70" font-size="8.4" stroke="#161616" stroke-width="0.12">-3</text>
<polyline points="406.60,1000.80 418.10,1000.80 419.00,1003.96 419.80,1002.26 420.25,924.35 420.75,847.90 421.25,889.16 421.75,937.70 422.20,975.32 422.70,993.52 423.20,1000.80 424.60,1002.38 429.10,1001.16 656.60,1000.80" fill="none" stroke="#ff2424" stroke-width="1.3" stroke-linejoin="round"/>
<polyline points="406.60,1000.80 419.35,1000.80 419.80,1001.41 420.25,927.99 420.75,860.03 421.25,898.87 421.75,946.19 422.20,986.24 422.70,1000.80 424.60,1002.01 429.10,1000.80 656.60,1000.80" fill="none" stroke="#2a40ff" stroke-width="1.3" stroke-linejoin="round" stroke-dasharray="5.5,3.2"/>
<rect x="406.60" y="835.70" width="250.00" height="182.90" fill="none" stroke="#333333" stroke-width="0.9" rx="0"/>
<text x="406.60" y="1034.10" font-size="11.5" text-anchor="middle" stroke="#161616" stroke-width="0.12">0</text>
<line x1="456.60" y1="1018.60" x2="456.60" y2="1016.10" stroke="#333333" stroke-width="0.9"/>
<line x1="456.60" y1="835.70" x2="456.60" y2="838.20" stroke="#333333" stroke-width="0.9"/>
<text x="456.60" y="1034.10" font-size="11.5" text-anchor="middle" stroke="#161616" stroke-width="0.12">0.01</text>
<line x1="506.60" y1="1018.60" x2="506.60" y2="1016.10" stroke="#333333" stroke-width="0.9"/>
<line x1="506.60" y1="835.70" x2="506.60" y2="838.20" stroke="#333333" stroke-width="0.9"/>
<text x="506.60" y="1034.10" font-size="11.5" text-anchor="middle" stroke="#161616" stroke-width="0.12">0.02</text>
<line x1="556.60" y1="1018.60" x2="556.60" y2="1016.10" stroke="#333333" stroke-width="0.9"/>
<line x1="556.60" y1="835.70" x2="556.60" y2="838.20" stroke="#333333" stroke-width="0.9"/>
<text x="556.60" y="1034.10" font-size="11.5" text-anchor="middle" stroke="#161616" stroke-width="0.12">0.03</text>
<line x1="606.60" y1="1018.60" x2="606.60" y2="1016.10" stroke="#333333" stroke-width="0.9"/>
<line x1="606.60" y1="835.70" x2="606.60" y2="838.20" stroke="#333333" stroke-width="0.9"/>
<text x="606.60" y="1034.10" font-size="11.5" text-anchor="middle" stroke="#161616" stroke-width="0.12">0.04</text>
<text x="656.60" y="1034.10" font-size="11.5" text-anchor="middle" stroke="#161616" stroke-width="0.12">0.05</text>
<line x1="406.60" y1="1000.80" x2="409.10" y2="1000.80" stroke="#333333" stroke-width="0.9"/>
<line x1="656.60" y1="1000.80" x2="654.10" y2="1000.80" stroke="#333333" stroke-width="0.9"/>
<text x="402.40" y="1004.20" font-size="11.5" text-anchor="end" stroke="#161616" stroke-width="0.12">0</text>
<line x1="406.60" y1="976.53" x2="409.10" y2="976.53" stroke="#333333" stroke-width="0.9"/>
<line x1="656.60" y1="976.53" x2="654.10" y2="976.53" stroke="#333333" stroke-width="0.9"/>
<text x="402.40" y="979.93" font-size="11.5" text-anchor="end" stroke="#161616" stroke-width="0.12">20</text>
<line x1="406.60" y1="952.26" x2="409.10" y2="952.26" stroke="#333333" stroke-width="0.9"/>
<line x1="656.60" y1="952.26" x2="654.10" y2="952.26" stroke="#333333" stroke-width="0.9"/>
<text x="402.40" y="955.66" font-size="11.5" text-anchor="end" stroke="#161616" stroke-width="0.12">40</text>
<line x1="406.60" y1="927.99" x2="409.10" y2="927.99" stroke="#333333" stroke-width="0.9"/>
<line x1="656.60" y1="927.99" x2="654.10" y2="927.99" stroke="#333333" stroke-width="0.9"/>
<text x="402.40" y="931.39" font-size="11.5" text-anchor="end" stroke="#161616" stroke-width="0.12">60</text>
<line x1="406.60" y1="903.72" x2="409.10" y2="903.72" stroke="#333333" stroke-width="0.9"/>
<line x1="656.60" y1="903.72" x2="654.10" y2="903.72" stroke="#333333" stroke-width="0.9"/>
<text x="402.40" y="907.12" font-size="11.5" text-anchor="end" stroke="#161616" stroke-width="0.12">80</text>
<line x1="406.60" y1="879.45" x2="409.10" y2="879.45" stroke="#333333" stroke-width="0.9"/>
<line x1="656.60" y1="879.45" x2="654.10" y2="879.45" stroke="#333333" stroke-width="0.9"/>
<text x="402.40" y="882.85" font-size="11.5" text-anchor="end" stroke="#161616" stroke-width="0.12">100</text>
<line x1="406.60" y1="855.18" x2="409.10" y2="855.18" stroke="#333333" stroke-width="0.9"/>
<line x1="656.60" y1="855.18" x2="654.10" y2="855.18" stroke="#333333" stroke-width="0.9"/>
<text x="402.40" y="858.58" font-size="11.5" text-anchor="end" stroke="#161616" stroke-width="0.12">120</text>
<text x="531.60" y="1050.70" font-size="13.3" text-anchor="middle" stroke="#161616" stroke-width="0.12">Time(s)</text>
<text x="378.80" y="927.70" font-size="13.5" text-anchor="middle" transform="rotate(-90.00 378.80 927.70)" stroke="#161616" stroke-width="0.12">Force(N)</text>
<text x="473.60" y="824.70" font-size="13.4" font-style="italic" stroke="#161616" stroke-width="0.12">l</text>
<text x="477.00" y="830.80" font-size="12.0" stroke="#161616" stroke-width="0.12">1</text>
<text x="483.20" y="824.70" font-size="13.4" stroke="#161616" stroke-width="0.12">-regularization(# 4)</text>
<line x1="459.00" y1="849.80" x2="482.00" y2="849.80" stroke="#ff2424" stroke-width="1.3"/>
<text x="484.00" y="854.20" font-size="11.0" fill="#000" stroke="#000" stroke-width="0.12">Real force</text>
<line x1="534.00" y1="849.80" x2="558.00" y2="849.80" stroke="#2a40ff" stroke-width="1.3" stroke-dasharray="5,3"/>
<text x="559.80" y="854.20" font-size="11.0" fill="#000" stroke="#000" stroke-width="0.12">Reconstructed force</text>
<rect x="477.5" y="867.2" width="129.10" height="96.30" fill="#fff" stroke="none"/>
<polyline points="477.40,960.90 483.10,962.00 495.40,959.20 507.70,962.00 520.80,909.10 533.10,867.80 546.60,893.20 558.90,921.80 571.20,944.00 584.30,956.20 597.00,960.20 606.50,960.20" fill="none" stroke="#ff2424" stroke-width="1.3" stroke-linejoin="round"/>
<polyline points="477.40,960.30 495.40,959.90 505.50,961.10 507.70,960.20 520.80,912.20 533.10,873.70 546.60,899.50 558.90,927.00 571.20,952.50 584.30,960.20 606.50,960.20" fill="none" stroke="#2a40ff" stroke-width="1.3" stroke-linejoin="round" stroke-dasharray="5.5,3.2"/>
<rect x="477.50" y="867.20" width="129.10" height="96.30" fill="none" stroke="#333333" stroke-width="0.9" rx="0"/>
<text x="473.60" y="965.00" font-size="10.4" text-anchor="end" stroke="#161616" stroke-width="0.12">0</text>
<line x1="477.50" y1="942.10" x2="479.50" y2="942.10" stroke="#333333" stroke-width="0.9"/>
<line x1="606.60" y1="942.10" x2="604.60" y2="942.10" stroke="#333333" stroke-width="0.9"/>
<text x="473.60" y="946.30" font-size="10.4" text-anchor="end" stroke="#161616" stroke-width="0.12">25</text>
<line x1="477.50" y1="923.40" x2="479.50" y2="923.40" stroke="#333333" stroke-width="0.9"/>
<line x1="606.60" y1="923.40" x2="604.60" y2="923.40" stroke="#333333" stroke-width="0.9"/>
<text x="473.60" y="927.60" font-size="10.4" text-anchor="end" stroke="#161616" stroke-width="0.12">50</text>
<line x1="477.50" y1="904.70" x2="479.50" y2="904.70" stroke="#333333" stroke-width="0.9"/>
<line x1="606.60" y1="904.70" x2="604.60" y2="904.70" stroke="#333333" stroke-width="0.9"/>
<text x="473.60" y="908.90" font-size="10.4" text-anchor="end" stroke="#161616" stroke-width="0.12">75</text>
<line x1="477.50" y1="886.00" x2="479.50" y2="886.00" stroke="#333333" stroke-width="0.9"/>
<line x1="606.60" y1="886.00" x2="604.60" y2="886.00" stroke="#333333" stroke-width="0.9"/>
<text x="473.60" y="890.20" font-size="10.4" text-anchor="end" stroke="#161616" stroke-width="0.12">100</text>
<text x="473.60" y="871.50" font-size="10.4" text-anchor="end" stroke="#161616" stroke-width="0.12">125</text>
<text x="477.50" y="978.40" font-size="10.4" text-anchor="middle" stroke="#161616" stroke-width="0.12">2.4</text>
<line x1="503.32" y1="963.50" x2="503.32" y2="961.50" stroke="#333333" stroke-width="0.9"/>
<line x1="503.32" y1="867.20" x2="503.32" y2="869.20" stroke="#333333" stroke-width="0.9"/>
<text x="503.32" y="978.40" font-size="10.4" text-anchor="middle" stroke="#161616" stroke-width="0.12">2.6</text>
<line x1="529.14" y1="963.50" x2="529.14" y2="961.50" stroke="#333333" stroke-width="0.9"/>
<line x1="529.14" y1="867.20" x2="529.14" y2="869.20" stroke="#333333" stroke-width="0.9"/>
<text x="529.14" y="978.40" font-size="10.4" text-anchor="middle" stroke="#161616" stroke-width="0.12">2.8</text>
<line x1="554.96" y1="963.50" x2="554.96" y2="961.50" stroke="#333333" stroke-width="0.9"/>
<line x1="554.96" y1="867.20" x2="554.96" y2="869.20" stroke="#333333" stroke-width="0.9"/>
<text x="554.96" y="978.40" font-size="10.4" text-anchor="middle" stroke="#161616" stroke-width="0.12">3</text>
<line x1="580.78" y1="963.50" x2="580.78" y2="961.50" stroke="#333333" stroke-width="0.9"/>
<line x1="580.78" y1="867.20" x2="580.78" y2="869.20" stroke="#333333" stroke-width="0.9"/>
<text x="580.78" y="978.40" font-size="10.4" text-anchor="middle" stroke="#161616" stroke-width="0.12">3.2</text>
<text x="606.60" y="978.40" font-size="10.4" text-anchor="middle" stroke="#161616" stroke-width="0.12">3.4</text>
<text x="579.60" y="995.20" font-size="12.6" stroke="#161616" stroke-width="0.12">×</text>
<text x="588.60" y="994.80" font-size="10.4" stroke="#161616" stroke-width="0.12">10</text>
<text x="599.40" y="989.80" font-size="8.4" stroke="#161616" stroke-width="0.12">-3</text>
</svg>
</body></html>
